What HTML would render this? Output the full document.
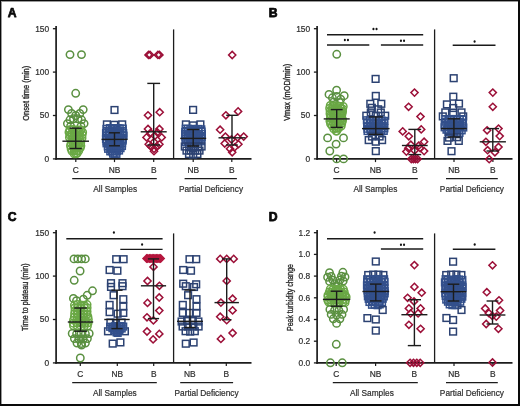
<!DOCTYPE html>
<html><head><meta charset="utf-8"><style>
html,body{margin:0;padding:0;background:#fff;}
#f{position:relative;width:520px;height:406px;overflow:hidden;background:#fff;}
#b{position:absolute;left:0;top:0;width:516.5px;height:402.5px;border-top:1.5px solid #0a0a0a;border-left:1.5px solid #0a0a0a;border-right:2px solid #0a0a0a;border-bottom:2px solid #0a0a0a;box-sizing:content-box;}
svg{position:absolute;left:0;top:0;will-change:transform;filter:blur(0.3px);}
#b2{position:absolute;left:1px;top:1px;width:517px;height:403px;border-top:1px solid #9a9a9a;border-left:1px solid #9a9a9a;}
text{font-family:"Liberation Sans",sans-serif;}
</style></head><body><div id="f"><svg width="520" height="406" viewBox="0 0 520 406">
<g transform="translate(0,0)">
<text x="7.7" y="17.2" font-size="12.2" font-weight="bold" fill="#0a0a0a" stroke="#0a0a0a" stroke-width="0.75" stroke-linejoin="round">A</text>
</g>
<line x1="56.1" y1="25.9" x2="56.1" y2="159.7" stroke="#1c1c1c" stroke-width="1.7"/>
<line x1="55.3" y1="158.9" x2="251.5" y2="158.9" stroke="#1c1c1c" stroke-width="1.7"/>
<line x1="52.9" y1="28.7" x2="56.1" y2="28.7" stroke="#1c1c1c" stroke-width="1.3"/>
<text x="49.2" y="31.6" font-size="8.4" text-anchor="end" fill="#2e2e2e" stroke="#2e2e2e" stroke-width="0.2">150</text>
<line x1="52.9" y1="72.1" x2="56.1" y2="72.1" stroke="#1c1c1c" stroke-width="1.3"/>
<text x="49.2" y="75" font-size="8.4" text-anchor="end" fill="#2e2e2e" stroke="#2e2e2e" stroke-width="0.2">100</text>
<line x1="52.9" y1="115.5" x2="56.1" y2="115.5" stroke="#1c1c1c" stroke-width="1.3"/>
<text x="49.2" y="118.4" font-size="8.4" text-anchor="end" fill="#2e2e2e" stroke="#2e2e2e" stroke-width="0.2">50</text>
<line x1="52.9" y1="158.9" x2="56.1" y2="158.9" stroke="#1c1c1c" stroke-width="1.3"/>
<text x="49.2" y="161.8" font-size="8.4" text-anchor="end" fill="#2e2e2e" stroke="#2e2e2e" stroke-width="0.2">0</text>
<line x1="173.6" y1="29.4" x2="173.6" y2="158.9" stroke="#1c1c1c" stroke-width="1.3"/>
<line x1="75.8" y1="158.9" x2="75.8" y2="162.1" stroke="#1c1c1c" stroke-width="1.2"/>
<text x="75.8" y="173.4" font-size="8.4" text-anchor="middle" fill="#2e2e2e" stroke="#2e2e2e" stroke-width="0.2">C</text>
<line x1="114.5" y1="158.9" x2="114.5" y2="162.1" stroke="#1c1c1c" stroke-width="1.2"/>
<text x="114.5" y="173.4" font-size="8.4" text-anchor="middle" fill="#2e2e2e" stroke="#2e2e2e" stroke-width="0.2">NB</text>
<line x1="153.7" y1="158.9" x2="153.7" y2="162.1" stroke="#1c1c1c" stroke-width="1.2"/>
<text x="153.7" y="173.4" font-size="8.4" text-anchor="middle" fill="#2e2e2e" stroke="#2e2e2e" stroke-width="0.2">B</text>
<line x1="193.2" y1="158.9" x2="193.2" y2="162.1" stroke="#1c1c1c" stroke-width="1.2"/>
<text x="193.2" y="173.4" font-size="8.4" text-anchor="middle" fill="#2e2e2e" stroke="#2e2e2e" stroke-width="0.2">NB</text>
<line x1="231.8" y1="158.9" x2="231.8" y2="162.1" stroke="#1c1c1c" stroke-width="1.2"/>
<text x="231.8" y="173.4" font-size="8.4" text-anchor="middle" fill="#2e2e2e" stroke="#2e2e2e" stroke-width="0.2">B</text>
<line x1="72.2" y1="178.6" x2="156.8" y2="178.6" stroke="#1c1c1c" stroke-width="1.4"/>
<line x1="184.6" y1="178.6" x2="236.9" y2="178.6" stroke="#1c1c1c" stroke-width="1.4"/>
<text x="115.2" y="192" font-size="8.3" text-anchor="middle" fill="#2e2e2e" stroke="#2e2e2e" stroke-width="0.2">All Samples</text>
<text x="211" y="192" font-size="8.3" text-anchor="middle" fill="#2e2e2e" stroke="#2e2e2e" stroke-width="0.2">Partial Deficiency</text>
<text transform="translate(28.9,93.3) rotate(-90)" font-size="8.4" text-anchor="middle" fill="#2e2e2e" textLength="55" lengthAdjust="spacingAndGlyphs" stroke="#2e2e2e" stroke-width="0.35">Onset time (min)</text>
<g transform="translate(261,0)">
<text x="7.7" y="17.2" font-size="12.2" font-weight="bold" fill="#0a0a0a" stroke="#0a0a0a" stroke-width="0.75" stroke-linejoin="round">B</text>
</g>
<line x1="317.1" y1="25.9" x2="317.1" y2="159.7" stroke="#1c1c1c" stroke-width="1.7"/>
<line x1="316.3" y1="158.9" x2="512.5" y2="158.9" stroke="#1c1c1c" stroke-width="1.7"/>
<line x1="313.9" y1="28.7" x2="317.1" y2="28.7" stroke="#1c1c1c" stroke-width="1.3"/>
<text x="310.2" y="31.6" font-size="8.4" text-anchor="end" fill="#2e2e2e" stroke="#2e2e2e" stroke-width="0.2">150</text>
<line x1="313.9" y1="72.1" x2="317.1" y2="72.1" stroke="#1c1c1c" stroke-width="1.3"/>
<text x="310.2" y="75" font-size="8.4" text-anchor="end" fill="#2e2e2e" stroke="#2e2e2e" stroke-width="0.2">100</text>
<line x1="313.9" y1="115.5" x2="317.1" y2="115.5" stroke="#1c1c1c" stroke-width="1.3"/>
<text x="310.2" y="118.4" font-size="8.4" text-anchor="end" fill="#2e2e2e" stroke="#2e2e2e" stroke-width="0.2">50</text>
<line x1="313.9" y1="158.9" x2="317.1" y2="158.9" stroke="#1c1c1c" stroke-width="1.3"/>
<text x="310.2" y="161.8" font-size="8.4" text-anchor="end" fill="#2e2e2e" stroke="#2e2e2e" stroke-width="0.2">0</text>
<line x1="434.6" y1="29.4" x2="434.6" y2="158.9" stroke="#1c1c1c" stroke-width="1.3"/>
<line x1="336.6" y1="158.9" x2="336.6" y2="162.1" stroke="#1c1c1c" stroke-width="1.2"/>
<text x="336.6" y="173.4" font-size="8.4" text-anchor="middle" fill="#2e2e2e" stroke="#2e2e2e" stroke-width="0.2">C</text>
<line x1="375.5" y1="158.9" x2="375.5" y2="162.1" stroke="#1c1c1c" stroke-width="1.2"/>
<text x="375.5" y="173.4" font-size="8.4" text-anchor="middle" fill="#2e2e2e" stroke="#2e2e2e" stroke-width="0.2">NB</text>
<line x1="414.7" y1="158.9" x2="414.7" y2="162.1" stroke="#1c1c1c" stroke-width="1.2"/>
<text x="414.7" y="173.4" font-size="8.4" text-anchor="middle" fill="#2e2e2e" stroke="#2e2e2e" stroke-width="0.2">B</text>
<line x1="454" y1="158.9" x2="454" y2="162.1" stroke="#1c1c1c" stroke-width="1.2"/>
<text x="454" y="173.4" font-size="8.4" text-anchor="middle" fill="#2e2e2e" stroke="#2e2e2e" stroke-width="0.2">NB</text>
<line x1="492.9" y1="158.9" x2="492.9" y2="162.1" stroke="#1c1c1c" stroke-width="1.2"/>
<text x="492.9" y="173.4" font-size="8.4" text-anchor="middle" fill="#2e2e2e" stroke="#2e2e2e" stroke-width="0.2">B</text>
<line x1="333.2" y1="178.6" x2="417.8" y2="178.6" stroke="#1c1c1c" stroke-width="1.4"/>
<line x1="446" y1="178.6" x2="497.8" y2="178.6" stroke="#1c1c1c" stroke-width="1.4"/>
<text x="375.4" y="192" font-size="8.3" text-anchor="middle" fill="#2e2e2e" stroke="#2e2e2e" stroke-width="0.2">All Samples</text>
<text x="471.9" y="192" font-size="8.3" text-anchor="middle" fill="#2e2e2e" stroke="#2e2e2e" stroke-width="0.2">Partial Deficiency</text>
<text transform="translate(289.9,92.3) rotate(-90)" font-size="8.4" text-anchor="middle" fill="#2e2e2e" textLength="57" lengthAdjust="spacingAndGlyphs" stroke="#2e2e2e" stroke-width="0.35">Vmax (mOD/min)</text>
<g transform="translate(0,204)">
<text x="7.7" y="17.2" font-size="12.2" font-weight="bold" fill="#0a0a0a" stroke="#0a0a0a" stroke-width="0.75" stroke-linejoin="round">C</text>
</g>
<line x1="56.1" y1="229.9" x2="56.1" y2="363.7" stroke="#1c1c1c" stroke-width="1.7"/>
<line x1="55.3" y1="362.9" x2="251.5" y2="362.9" stroke="#1c1c1c" stroke-width="1.7"/>
<line x1="52.9" y1="232.7" x2="56.1" y2="232.7" stroke="#1c1c1c" stroke-width="1.3"/>
<text x="49.2" y="235.6" font-size="8.4" text-anchor="end" fill="#2e2e2e" stroke="#2e2e2e" stroke-width="0.2">150</text>
<line x1="52.9" y1="276.1" x2="56.1" y2="276.1" stroke="#1c1c1c" stroke-width="1.3"/>
<text x="49.2" y="279" font-size="8.4" text-anchor="end" fill="#2e2e2e" stroke="#2e2e2e" stroke-width="0.2">100</text>
<line x1="52.9" y1="319.5" x2="56.1" y2="319.5" stroke="#1c1c1c" stroke-width="1.3"/>
<text x="49.2" y="322.4" font-size="8.4" text-anchor="end" fill="#2e2e2e" stroke="#2e2e2e" stroke-width="0.2">50</text>
<line x1="52.9" y1="362.9" x2="56.1" y2="362.9" stroke="#1c1c1c" stroke-width="1.3"/>
<text x="49.2" y="365.8" font-size="8.4" text-anchor="end" fill="#2e2e2e" stroke="#2e2e2e" stroke-width="0.2">0</text>
<line x1="173.6" y1="233.4" x2="173.6" y2="362.9" stroke="#1c1c1c" stroke-width="1.3"/>
<line x1="80.3" y1="362.9" x2="80.3" y2="366.1" stroke="#1c1c1c" stroke-width="1.2"/>
<text x="80.3" y="377.4" font-size="8.4" text-anchor="middle" fill="#2e2e2e" stroke="#2e2e2e" stroke-width="0.2">C</text>
<line x1="117.3" y1="362.9" x2="117.3" y2="366.1" stroke="#1c1c1c" stroke-width="1.2"/>
<text x="117.3" y="377.4" font-size="8.4" text-anchor="middle" fill="#2e2e2e" stroke="#2e2e2e" stroke-width="0.2">NB</text>
<line x1="153.7" y1="362.9" x2="153.7" y2="366.1" stroke="#1c1c1c" stroke-width="1.2"/>
<text x="153.7" y="377.4" font-size="8.4" text-anchor="middle" fill="#2e2e2e" stroke="#2e2e2e" stroke-width="0.2">B</text>
<line x1="189.8" y1="362.9" x2="189.8" y2="366.1" stroke="#1c1c1c" stroke-width="1.2"/>
<text x="189.8" y="377.4" font-size="8.4" text-anchor="middle" fill="#2e2e2e" stroke="#2e2e2e" stroke-width="0.2">NB</text>
<line x1="226.3" y1="362.9" x2="226.3" y2="366.1" stroke="#1c1c1c" stroke-width="1.2"/>
<text x="226.3" y="377.4" font-size="8.4" text-anchor="middle" fill="#2e2e2e" stroke="#2e2e2e" stroke-width="0.2">B</text>
<line x1="72.2" y1="382.6" x2="156.8" y2="382.6" stroke="#1c1c1c" stroke-width="1.4"/>
<line x1="180.2" y1="382.6" x2="233.1" y2="382.6" stroke="#1c1c1c" stroke-width="1.4"/>
<text x="114.8" y="396" font-size="8.3" text-anchor="middle" fill="#2e2e2e" stroke="#2e2e2e" stroke-width="0.2">All Samples</text>
<text x="206.6" y="396" font-size="8.3" text-anchor="middle" fill="#2e2e2e" stroke="#2e2e2e" stroke-width="0.2">Partial Deficiency</text>
<text transform="translate(28.3,297.2) rotate(-90)" font-size="8.4" text-anchor="middle" fill="#2e2e2e" textLength="67.5" lengthAdjust="spacingAndGlyphs" stroke="#2e2e2e" stroke-width="0.35">Time to plateau (min)</text>
<g transform="translate(261,204)">
<text x="7.7" y="17.2" font-size="12.2" font-weight="bold" fill="#0a0a0a" stroke="#0a0a0a" stroke-width="0.75" stroke-linejoin="round">D</text>
</g>
<line x1="317.1" y1="229.9" x2="317.1" y2="363.7" stroke="#1c1c1c" stroke-width="1.7"/>
<line x1="316.3" y1="362.9" x2="512.5" y2="362.9" stroke="#1c1c1c" stroke-width="1.7"/>
<line x1="313.9" y1="232.7" x2="317.1" y2="232.7" stroke="#1c1c1c" stroke-width="1.3"/>
<text x="310.2" y="235.6" font-size="8.4" text-anchor="end" fill="#2e2e2e" stroke="#2e2e2e" stroke-width="0.2">1.2</text>
<line x1="313.9" y1="254.4" x2="317.1" y2="254.4" stroke="#1c1c1c" stroke-width="1.3"/>
<text x="310.2" y="257.3" font-size="8.4" text-anchor="end" fill="#2e2e2e" stroke="#2e2e2e" stroke-width="0.2">1.0</text>
<line x1="313.9" y1="276.1" x2="317.1" y2="276.1" stroke="#1c1c1c" stroke-width="1.3"/>
<text x="310.2" y="279" font-size="8.4" text-anchor="end" fill="#2e2e2e" stroke="#2e2e2e" stroke-width="0.2">0.8</text>
<line x1="313.9" y1="297.8" x2="317.1" y2="297.8" stroke="#1c1c1c" stroke-width="1.3"/>
<text x="310.2" y="300.7" font-size="8.4" text-anchor="end" fill="#2e2e2e" stroke="#2e2e2e" stroke-width="0.2">0.6</text>
<line x1="313.9" y1="319.5" x2="317.1" y2="319.5" stroke="#1c1c1c" stroke-width="1.3"/>
<text x="310.2" y="322.4" font-size="8.4" text-anchor="end" fill="#2e2e2e" stroke="#2e2e2e" stroke-width="0.2">0.4</text>
<line x1="313.9" y1="341.2" x2="317.1" y2="341.2" stroke="#1c1c1c" stroke-width="1.3"/>
<text x="310.2" y="344.1" font-size="8.4" text-anchor="end" fill="#2e2e2e" stroke="#2e2e2e" stroke-width="0.2">0.2</text>
<line x1="313.9" y1="362.9" x2="317.1" y2="362.9" stroke="#1c1c1c" stroke-width="1.3"/>
<text x="310.2" y="365.8" font-size="8.4" text-anchor="end" fill="#2e2e2e" stroke="#2e2e2e" stroke-width="0.2">0.0</text>
<line x1="434.6" y1="233.4" x2="434.6" y2="362.9" stroke="#1c1c1c" stroke-width="1.3"/>
<line x1="336.2" y1="362.9" x2="336.2" y2="366.1" stroke="#1c1c1c" stroke-width="1.2"/>
<text x="336.2" y="377.4" font-size="8.4" text-anchor="middle" fill="#2e2e2e" stroke="#2e2e2e" stroke-width="0.2">C</text>
<line x1="375.6" y1="362.9" x2="375.6" y2="366.1" stroke="#1c1c1c" stroke-width="1.2"/>
<text x="375.6" y="377.4" font-size="8.4" text-anchor="middle" fill="#2e2e2e" stroke="#2e2e2e" stroke-width="0.2">NB</text>
<line x1="414.2" y1="362.9" x2="414.2" y2="366.1" stroke="#1c1c1c" stroke-width="1.2"/>
<text x="414.2" y="377.4" font-size="8.4" text-anchor="middle" fill="#2e2e2e" stroke="#2e2e2e" stroke-width="0.2">B</text>
<line x1="454" y1="362.9" x2="454" y2="366.1" stroke="#1c1c1c" stroke-width="1.2"/>
<text x="454" y="377.4" font-size="8.4" text-anchor="middle" fill="#2e2e2e" stroke="#2e2e2e" stroke-width="0.2">NB</text>
<line x1="492.9" y1="362.9" x2="492.9" y2="366.1" stroke="#1c1c1c" stroke-width="1.2"/>
<text x="492.9" y="377.4" font-size="8.4" text-anchor="middle" fill="#2e2e2e" stroke="#2e2e2e" stroke-width="0.2">B</text>
<line x1="332.8" y1="382.6" x2="417.8" y2="382.6" stroke="#1c1c1c" stroke-width="1.4"/>
<line x1="446" y1="382.6" x2="497.8" y2="382.6" stroke="#1c1c1c" stroke-width="1.4"/>
<text x="371.9" y="396" font-size="8.3" text-anchor="middle" fill="#2e2e2e" stroke="#2e2e2e" stroke-width="0.2">All Samples</text>
<text x="471.9" y="396" font-size="8.3" text-anchor="middle" fill="#2e2e2e" stroke="#2e2e2e" stroke-width="0.2">Partial Deficiency</text>
<text transform="translate(292.8,297.5) rotate(-90)" font-size="8.4" text-anchor="middle" fill="#2e2e2e" textLength="67" lengthAdjust="spacingAndGlyphs" stroke="#2e2e2e" stroke-width="0.35">Peak turbidity change</text>
<g fill="none" stroke-width="1.5">
<circle cx="70" cy="54.6" r="3.7" stroke="#5a9040"/>
<circle cx="81.5" cy="54.6" r="3.7" stroke="#5a9040"/>
<circle cx="75.7" cy="93.3" r="3.7" stroke="#5a9040"/>
<circle cx="68.4" cy="109.6" r="3.7" stroke="#5a9040"/>
<circle cx="83.2" cy="109.6" r="3.7" stroke="#5a9040"/>
<circle cx="71.6" cy="113.5" r="3.7" stroke="#5a9040"/>
<circle cx="79.8" cy="113.5" r="3.7" stroke="#5a9040"/>
<circle cx="75.7" cy="115.5" r="3.7" stroke="#5a9040"/>
<circle cx="73.5" cy="118.8" r="3.7" stroke="#5a9040"/>
<circle cx="78" cy="118.8" r="3.7" stroke="#5a9040"/>
<circle cx="70" cy="119.8" r="3.7" stroke="#5a9040"/>
<circle cx="81.6" cy="119.8" r="3.7" stroke="#5a9040"/>
<circle cx="67.4" cy="123.6" r="3.7" stroke="#5a9040"/>
<circle cx="84.1" cy="123.6" r="3.7" stroke="#5a9040"/>
<circle cx="70.6" cy="126.2" r="3.7" stroke="#5a9040"/>
<circle cx="81" cy="126.2" r="3.7" stroke="#5a9040"/>
<circle cx="69.82" cy="129.65" r="3.7" stroke="#6aa845"/>
<circle cx="73.03" cy="129.57" r="3.7" stroke="#6aa845"/>
<circle cx="75.79" cy="129.87" r="3.7" stroke="#6aa845"/>
<circle cx="78.18" cy="130.01" r="3.7" stroke="#6aa845"/>
<circle cx="81.04" cy="129.93" r="3.7" stroke="#6aa845"/>
<circle cx="68.96" cy="132.19" r="3.7" stroke="#6aa845"/>
<circle cx="71.88" cy="132.93" r="3.7" stroke="#6aa845"/>
<circle cx="74.14" cy="132.32" r="3.7" stroke="#6aa845"/>
<circle cx="77.2" cy="133.05" r="3.7" stroke="#6aa845"/>
<circle cx="79.71" cy="132.5" r="3.7" stroke="#6aa845"/>
<circle cx="82.67" cy="132.15" r="3.7" stroke="#6aa845"/>
<circle cx="69.81" cy="134.99" r="3.7" stroke="#6aa845"/>
<circle cx="71.63" cy="134.82" r="3.7" stroke="#6aa845"/>
<circle cx="74.34" cy="135.52" r="3.7" stroke="#6aa845"/>
<circle cx="76.75" cy="135.28" r="3.7" stroke="#6aa845"/>
<circle cx="79.75" cy="135.07" r="3.7" stroke="#6aa845"/>
<circle cx="82.2" cy="134.76" r="3.7" stroke="#6aa845"/>
<circle cx="69.4" cy="137.51" r="3.7" stroke="#6aa845"/>
<circle cx="73" cy="137.73" r="3.7" stroke="#6aa845"/>
<circle cx="75.61" cy="137.89" r="3.7" stroke="#6aa845"/>
<circle cx="78.73" cy="137.6" r="3.7" stroke="#6aa845"/>
<circle cx="82.05" cy="138" r="3.7" stroke="#6aa845"/>
<circle cx="71.7" cy="140.47" r="3.7" stroke="#6aa845"/>
<circle cx="74.54" cy="140.78" r="3.7" stroke="#6aa845"/>
<circle cx="77.31" cy="140.19" r="3.7" stroke="#6aa845"/>
<circle cx="80.13" cy="140.02" r="3.7" stroke="#6aa845"/>
<circle cx="71.1" cy="143.26" r="3.7" stroke="#6aa845"/>
<circle cx="73.14" cy="142.99" r="3.7" stroke="#6aa845"/>
<circle cx="75.34" cy="143.17" r="3.7" stroke="#6aa845"/>
<circle cx="78.37" cy="143.07" r="3.7" stroke="#6aa845"/>
<circle cx="80.79" cy="142.81" r="3.7" stroke="#6aa845"/>
<circle cx="70.45" cy="145.69" r="3.7" stroke="#6aa845"/>
<circle cx="73.11" cy="145.56" r="3.7" stroke="#6aa845"/>
<circle cx="76.14" cy="146.04" r="3.7" stroke="#6aa845"/>
<circle cx="78.55" cy="145.76" r="3.7" stroke="#6aa845"/>
<circle cx="80.91" cy="145.8" r="3.7" stroke="#6aa845"/>
<circle cx="71.06" cy="148.69" r="3.7" stroke="#6aa845"/>
<circle cx="73.68" cy="147.98" r="3.7" stroke="#6aa845"/>
<circle cx="75.68" cy="148.37" r="3.7" stroke="#6aa845"/>
<circle cx="77.76" cy="148.16" r="3.7" stroke="#6aa845"/>
<circle cx="80.35" cy="147.82" r="3.7" stroke="#6aa845"/>
<circle cx="71.9" cy="151.07" r="3.7" stroke="#6aa845"/>
<circle cx="74.25" cy="150.55" r="3.7" stroke="#6aa845"/>
<circle cx="76.8" cy="151.17" r="3.7" stroke="#6aa845"/>
<circle cx="78.77" cy="150.75" r="3.7" stroke="#6aa845"/>
<circle cx="74.13" cy="153.78" r="3.7" stroke="#6aa845"/>
<circle cx="76.05" cy="153.76" r="3.7" stroke="#6aa845"/>
<circle cx="77.16" cy="153.32" r="3.7" stroke="#6aa845"/>
<rect x="111.15" y="106.65" width="6.7" height="6.7" stroke="#2c4272"/>
<rect x="103.55" y="121.05" width="6.7" height="6.7" stroke="#2c4272"/>
<rect x="110.95" y="121.45" width="6.7" height="6.7" stroke="#2c4272"/>
<rect x="118.85" y="121.05" width="6.7" height="6.7" stroke="#2c4272"/>
<rect x="103.11" y="125.53" width="6.7" height="6.7" stroke="#33508c"/>
<rect x="106.42" y="124.8" width="6.7" height="6.7" stroke="#33508c"/>
<rect x="108.36" y="124.88" width="6.7" height="6.7" stroke="#33508c"/>
<rect x="111.13" y="125.13" width="6.7" height="6.7" stroke="#33508c"/>
<rect x="114.21" y="124.91" width="6.7" height="6.7" stroke="#33508c"/>
<rect x="116.34" y="125.07" width="6.7" height="6.7" stroke="#33508c"/>
<rect x="119.42" y="125.22" width="6.7" height="6.7" stroke="#33508c"/>
<rect x="103.64" y="127.84" width="6.7" height="6.7" stroke="#33508c"/>
<rect x="105.94" y="127.77" width="6.7" height="6.7" stroke="#33508c"/>
<rect x="108.85" y="127.2" width="6.7" height="6.7" stroke="#33508c"/>
<rect x="111.82" y="127.93" width="6.7" height="6.7" stroke="#33508c"/>
<rect x="114.54" y="127.95" width="6.7" height="6.7" stroke="#33508c"/>
<rect x="116.8" y="127.55" width="6.7" height="6.7" stroke="#33508c"/>
<rect x="119.25" y="127.78" width="6.7" height="6.7" stroke="#33508c"/>
<rect x="102.68" y="129.72" width="6.7" height="6.7" stroke="#33508c"/>
<rect x="105.6" y="129.81" width="6.7" height="6.7" stroke="#33508c"/>
<rect x="108.5" y="129.7" width="6.7" height="6.7" stroke="#33508c"/>
<rect x="110.93" y="129.8" width="6.7" height="6.7" stroke="#33508c"/>
<rect x="113.81" y="130.01" width="6.7" height="6.7" stroke="#33508c"/>
<rect x="116.5" y="130.52" width="6.7" height="6.7" stroke="#33508c"/>
<rect x="119.86" y="129.8" width="6.7" height="6.7" stroke="#33508c"/>
<rect x="102.8" y="132.5" width="6.7" height="6.7" stroke="#33508c"/>
<rect x="105.71" y="132.27" width="6.7" height="6.7" stroke="#33508c"/>
<rect x="109" y="133.14" width="6.7" height="6.7" stroke="#33508c"/>
<rect x="111.42" y="132.63" width="6.7" height="6.7" stroke="#33508c"/>
<rect x="113.84" y="132.25" width="6.7" height="6.7" stroke="#33508c"/>
<rect x="116.89" y="132.41" width="6.7" height="6.7" stroke="#33508c"/>
<rect x="120.18" y="132.31" width="6.7" height="6.7" stroke="#33508c"/>
<rect x="102.66" y="135.6" width="6.7" height="6.7" stroke="#33508c"/>
<rect x="105.92" y="134.8" width="6.7" height="6.7" stroke="#33508c"/>
<rect x="108.69" y="134.68" width="6.7" height="6.7" stroke="#33508c"/>
<rect x="111.44" y="135.63" width="6.7" height="6.7" stroke="#33508c"/>
<rect x="114.53" y="135.35" width="6.7" height="6.7" stroke="#33508c"/>
<rect x="116.69" y="135.02" width="6.7" height="6.7" stroke="#33508c"/>
<rect x="119.35" y="135.42" width="6.7" height="6.7" stroke="#33508c"/>
<rect x="103.25" y="137.93" width="6.7" height="6.7" stroke="#33508c"/>
<rect x="105.76" y="137.37" width="6.7" height="6.7" stroke="#33508c"/>
<rect x="108.96" y="138.13" width="6.7" height="6.7" stroke="#33508c"/>
<rect x="111.72" y="137.96" width="6.7" height="6.7" stroke="#33508c"/>
<rect x="114.4" y="137.89" width="6.7" height="6.7" stroke="#33508c"/>
<rect x="116.53" y="137.67" width="6.7" height="6.7" stroke="#33508c"/>
<rect x="119.37" y="137.18" width="6.7" height="6.7" stroke="#33508c"/>
<rect x="103.18" y="139.93" width="6.7" height="6.7" stroke="#33508c"/>
<rect x="105.98" y="140.34" width="6.7" height="6.7" stroke="#33508c"/>
<rect x="109.24" y="140.1" width="6.7" height="6.7" stroke="#33508c"/>
<rect x="111.79" y="140.64" width="6.7" height="6.7" stroke="#33508c"/>
<rect x="114.37" y="140.01" width="6.7" height="6.7" stroke="#33508c"/>
<rect x="116.2" y="139.88" width="6.7" height="6.7" stroke="#33508c"/>
<rect x="118.75" y="139.85" width="6.7" height="6.7" stroke="#33508c"/>
<rect x="104.44" y="143.05" width="6.7" height="6.7" stroke="#33508c"/>
<rect x="107.47" y="142.63" width="6.7" height="6.7" stroke="#33508c"/>
<rect x="110.1" y="142.95" width="6.7" height="6.7" stroke="#33508c"/>
<rect x="112.34" y="142.81" width="6.7" height="6.7" stroke="#33508c"/>
<rect x="115.98" y="142.93" width="6.7" height="6.7" stroke="#33508c"/>
<rect x="118.63" y="142.63" width="6.7" height="6.7" stroke="#33508c"/>
<rect x="104.8" y="145.44" width="6.7" height="6.7" stroke="#33508c"/>
<rect x="107.44" y="145.45" width="6.7" height="6.7" stroke="#33508c"/>
<rect x="110.57" y="145.05" width="6.7" height="6.7" stroke="#33508c"/>
<rect x="112.48" y="145.6" width="6.7" height="6.7" stroke="#33508c"/>
<rect x="115.29" y="144.82" width="6.7" height="6.7" stroke="#33508c"/>
<rect x="117.18" y="144.8" width="6.7" height="6.7" stroke="#33508c"/>
<rect x="106.9" y="147.96" width="6.7" height="6.7" stroke="#33508c"/>
<rect x="108.53" y="147.98" width="6.7" height="6.7" stroke="#33508c"/>
<rect x="111.76" y="147.81" width="6.7" height="6.7" stroke="#33508c"/>
<rect x="113.51" y="147.7" width="6.7" height="6.7" stroke="#33508c"/>
<rect x="115.68" y="147.16" width="6.7" height="6.7" stroke="#33508c"/>
<rect x="109.72" y="150.3" width="6.7" height="6.7" stroke="#33508c"/>
<rect x="111.22" y="150.58" width="6.7" height="6.7" stroke="#33508c"/>
<rect x="113.08" y="150.52" width="6.7" height="6.7" stroke="#33508c"/>
<path d="M148.5 51.3l3.6 3.6l-3.6 3.6l-3.6 -3.6z" stroke="#9c1038"/>
<path d="M150 51.3l3.6 3.6l-3.6 3.6l-3.6 -3.6z" stroke="#9c1038"/>
<path d="M157.9 51.3l3.6 3.6l-3.6 3.6l-3.6 -3.6z" stroke="#9c1038"/>
<path d="M159.4 51.3l3.6 3.6l-3.6 3.6l-3.6 -3.6z" stroke="#9c1038"/>
<path d="M148 111.7l3.6 3.6l-3.6 3.6l-3.6 -3.6z" stroke="#9c1038"/>
<path d="M159.7 108.6l3.6 3.6l-3.6 3.6l-3.6 -3.6z" stroke="#9c1038"/>
<path d="M148 125.4l3.6 3.6l-3.6 3.6l-3.6 -3.6z" stroke="#9c1038"/>
<path d="M159.4 125.4l3.6 3.6l-3.6 3.6l-3.6 -3.6z" stroke="#9c1038"/>
<path d="M146.5 133.8l3.6 3.6l-3.6 3.6l-3.6 -3.6z" stroke="#9c1038"/>
<path d="M154.8 132.3l3.6 3.6l-3.6 3.6l-3.6 -3.6z" stroke="#9c1038"/>
<path d="M161.7 133.8l3.6 3.6l-3.6 3.6l-3.6 -3.6z" stroke="#9c1038"/>
<path d="M150.6 129.2l3.6 3.6l-3.6 3.6l-3.6 -3.6z" stroke="#9c1038"/>
<path d="M157.4 128.8l3.6 3.6l-3.6 3.6l-3.6 -3.6z" stroke="#9c1038"/>
<path d="M148.7 140.7l3.6 3.6l-3.6 3.6l-3.6 -3.6z" stroke="#9c1038"/>
<path d="M154 145.3l3.6 3.6l-3.6 3.6l-3.6 -3.6z" stroke="#9c1038"/>
<path d="M159.4 140.7l3.6 3.6l-3.6 3.6l-3.6 -3.6z" stroke="#9c1038"/>
<path d="M154 138.4l3.6 3.6l-3.6 3.6l-3.6 -3.6z" stroke="#9c1038"/>
<path d="M151 142.9l3.6 3.6l-3.6 3.6l-3.6 -3.6z" stroke="#9c1038"/>
<path d="M157 142.9l3.6 3.6l-3.6 3.6l-3.6 -3.6z" stroke="#9c1038"/>
<path d="M154 147.6l3.6 3.6l-3.6 3.6l-3.6 -3.6z" stroke="#9c1038"/>
<rect x="189.75" y="106.55" width="6.7" height="6.7" stroke="#2c4272"/>
<rect x="182.55" y="121.05" width="6.7" height="6.7" stroke="#2c4272"/>
<rect x="189.75" y="122.05" width="6.7" height="6.7" stroke="#2c4272"/>
<rect x="197.05" y="121.05" width="6.7" height="6.7" stroke="#2c4272"/>
<rect x="182.38" y="125.36" width="6.7" height="6.7" stroke="#33508c"/>
<rect x="184.44" y="125.44" width="6.7" height="6.7" stroke="#33508c"/>
<rect x="187.06" y="125.74" width="6.7" height="6.7" stroke="#33508c"/>
<rect x="189.71" y="125.57" width="6.7" height="6.7" stroke="#33508c"/>
<rect x="192.21" y="126.06" width="6.7" height="6.7" stroke="#33508c"/>
<rect x="195.07" y="125.61" width="6.7" height="6.7" stroke="#33508c"/>
<rect x="197.93" y="126.05" width="6.7" height="6.7" stroke="#33508c"/>
<rect x="181.9" y="128.57" width="6.7" height="6.7" stroke="#33508c"/>
<rect x="184.65" y="128.18" width="6.7" height="6.7" stroke="#33508c"/>
<rect x="187.34" y="127.67" width="6.7" height="6.7" stroke="#33508c"/>
<rect x="189.93" y="127.83" width="6.7" height="6.7" stroke="#33508c"/>
<rect x="192.16" y="128.45" width="6.7" height="6.7" stroke="#33508c"/>
<rect x="195" y="128.12" width="6.7" height="6.7" stroke="#33508c"/>
<rect x="198.22" y="128.21" width="6.7" height="6.7" stroke="#33508c"/>
<rect x="181.73" y="130.67" width="6.7" height="6.7" stroke="#33508c"/>
<rect x="184.67" y="130.93" width="6.7" height="6.7" stroke="#33508c"/>
<rect x="186.92" y="130.71" width="6.7" height="6.7" stroke="#33508c"/>
<rect x="189.77" y="130.43" width="6.7" height="6.7" stroke="#33508c"/>
<rect x="193" y="130.66" width="6.7" height="6.7" stroke="#33508c"/>
<rect x="195.49" y="130.91" width="6.7" height="6.7" stroke="#33508c"/>
<rect x="198.55" y="130.59" width="6.7" height="6.7" stroke="#33508c"/>
<rect x="181.98" y="133.16" width="6.7" height="6.7" stroke="#33508c"/>
<rect x="184.6" y="133.34" width="6.7" height="6.7" stroke="#33508c"/>
<rect x="187.27" y="133.18" width="6.7" height="6.7" stroke="#33508c"/>
<rect x="190.02" y="133.59" width="6.7" height="6.7" stroke="#33508c"/>
<rect x="192.97" y="133.53" width="6.7" height="6.7" stroke="#33508c"/>
<rect x="195.94" y="132.91" width="6.7" height="6.7" stroke="#33508c"/>
<rect x="198.28" y="133.59" width="6.7" height="6.7" stroke="#33508c"/>
<rect x="182.28" y="135.29" width="6.7" height="6.7" stroke="#33508c"/>
<rect x="184.25" y="135.59" width="6.7" height="6.7" stroke="#33508c"/>
<rect x="186.89" y="135.39" width="6.7" height="6.7" stroke="#33508c"/>
<rect x="189.58" y="135.82" width="6.7" height="6.7" stroke="#33508c"/>
<rect x="192.97" y="136.05" width="6.7" height="6.7" stroke="#33508c"/>
<rect x="195.03" y="135.87" width="6.7" height="6.7" stroke="#33508c"/>
<rect x="198.23" y="135.29" width="6.7" height="6.7" stroke="#33508c"/>
<rect x="182.4" y="138.62" width="6.7" height="6.7" stroke="#33508c"/>
<rect x="184.39" y="138.6" width="6.7" height="6.7" stroke="#33508c"/>
<rect x="187.21" y="138.14" width="6.7" height="6.7" stroke="#33508c"/>
<rect x="190.46" y="138.48" width="6.7" height="6.7" stroke="#33508c"/>
<rect x="192.28" y="138.08" width="6.7" height="6.7" stroke="#33508c"/>
<rect x="195.28" y="137.99" width="6.7" height="6.7" stroke="#33508c"/>
<rect x="197.61" y="137.97" width="6.7" height="6.7" stroke="#33508c"/>
<rect x="181.45" y="143.15" width="6.7" height="6.7" stroke="#2c4272"/>
<rect x="185.85" y="143.15" width="6.7" height="6.7" stroke="#2c4272"/>
<rect x="190.25" y="143.15" width="6.7" height="6.7" stroke="#2c4272"/>
<rect x="194.65" y="143.15" width="6.7" height="6.7" stroke="#2c4272"/>
<rect x="198.25" y="143.15" width="6.7" height="6.7" stroke="#2c4272"/>
<rect x="183.15" y="147.25" width="6.7" height="6.7" stroke="#2c4272"/>
<rect x="187.45" y="147.25" width="6.7" height="6.7" stroke="#2c4272"/>
<rect x="191.85" y="147.25" width="6.7" height="6.7" stroke="#2c4272"/>
<rect x="196.15" y="147.25" width="6.7" height="6.7" stroke="#2c4272"/>
<rect x="185.65" y="150.65" width="6.7" height="6.7" stroke="#2c4272"/>
<rect x="189.85" y="151.25" width="6.7" height="6.7" stroke="#2c4272"/>
<rect x="194.05" y="150.65" width="6.7" height="6.7" stroke="#2c4272"/>
<path d="M232.2 51.4l3.6 3.6l-3.6 3.6l-3.6 -3.6z" stroke="#9c1038"/>
<path d="M225.9 111.7l3.6 3.6l-3.6 3.6l-3.6 -3.6z" stroke="#9c1038"/>
<path d="M238.1 107.8l3.6 3.6l-3.6 3.6l-3.6 -3.6z" stroke="#9c1038"/>
<path d="M220.1 126.1l3.6 3.6l-3.6 3.6l-3.6 -3.6z" stroke="#9c1038"/>
<path d="M225.4 133l3.6 3.6l-3.6 3.6l-3.6 -3.6z" stroke="#9c1038"/>
<path d="M237.6 133.8l3.6 3.6l-3.6 3.6l-3.6 -3.6z" stroke="#9c1038"/>
<path d="M243.7 133l3.6 3.6l-3.6 3.6l-3.6 -3.6z" stroke="#9c1038"/>
<path d="M231.5 135.9l3.6 3.6l-3.6 3.6l-3.6 -3.6z" stroke="#9c1038"/>
<path d="M224.7 139.9l3.6 3.6l-3.6 3.6l-3.6 -3.6z" stroke="#9c1038"/>
<path d="M238.4 140.6l3.6 3.6l-3.6 3.6l-3.6 -3.6z" stroke="#9c1038"/>
<path d="M230 145.2l3.6 3.6l-3.6 3.6l-3.6 -3.6z" stroke="#9c1038"/>
<path d="M234.6 143.7l3.6 3.6l-3.6 3.6l-3.6 -3.6z" stroke="#9c1038"/>
<path d="M232.2 148.7l3.6 3.6l-3.6 3.6l-3.6 -3.6z" stroke="#9c1038"/>
<circle cx="336.75" cy="54.3" r="3.7" stroke="#5a9040"/>
<circle cx="336.6" cy="90.2" r="3.7" stroke="#5a9040"/>
<circle cx="329" cy="94.4" r="3.7" stroke="#5a9040"/>
<circle cx="344.2" cy="95.7" r="3.7" stroke="#5a9040"/>
<circle cx="332.4" cy="97.8" r="3.7" stroke="#5a9040"/>
<circle cx="340.7" cy="99.2" r="3.7" stroke="#5a9040"/>
<circle cx="336.6" cy="96.5" r="3.7" stroke="#5a9040"/>
<circle cx="333.8" cy="102" r="3.7" stroke="#5a9040"/>
<circle cx="339.6" cy="102.5" r="3.7" stroke="#5a9040"/>
<circle cx="330.22" cy="105.52" r="3.7" stroke="#6aa845"/>
<circle cx="332.65" cy="105.94" r="3.7" stroke="#6aa845"/>
<circle cx="334.72" cy="105.83" r="3.7" stroke="#6aa845"/>
<circle cx="337.92" cy="106.01" r="3.7" stroke="#6aa845"/>
<circle cx="339.96" cy="106.49" r="3.7" stroke="#6aa845"/>
<circle cx="343.29" cy="106.47" r="3.7" stroke="#6aa845"/>
<circle cx="329.6" cy="108.27" r="3.7" stroke="#6aa845"/>
<circle cx="332.14" cy="108.78" r="3.7" stroke="#6aa845"/>
<circle cx="334.97" cy="108.13" r="3.7" stroke="#6aa845"/>
<circle cx="337.72" cy="108.91" r="3.7" stroke="#6aa845"/>
<circle cx="340.72" cy="108.26" r="3.7" stroke="#6aa845"/>
<circle cx="342.65" cy="108.92" r="3.7" stroke="#6aa845"/>
<circle cx="330.07" cy="111.2" r="3.7" stroke="#6aa845"/>
<circle cx="332.19" cy="110.56" r="3.7" stroke="#6aa845"/>
<circle cx="335.39" cy="110.93" r="3.7" stroke="#6aa845"/>
<circle cx="337.37" cy="111.44" r="3.7" stroke="#6aa845"/>
<circle cx="340.53" cy="111.3" r="3.7" stroke="#6aa845"/>
<circle cx="342.58" cy="111.36" r="3.7" stroke="#6aa845"/>
<circle cx="329.97" cy="113.86" r="3.7" stroke="#6aa845"/>
<circle cx="332.79" cy="113.34" r="3.7" stroke="#6aa845"/>
<circle cx="335.33" cy="113.93" r="3.7" stroke="#6aa845"/>
<circle cx="337.49" cy="113.13" r="3.7" stroke="#6aa845"/>
<circle cx="340.19" cy="113.24" r="3.7" stroke="#6aa845"/>
<circle cx="342.21" cy="113.16" r="3.7" stroke="#6aa845"/>
<circle cx="330.62" cy="115.7" r="3.7" stroke="#6aa845"/>
<circle cx="333.6" cy="115.81" r="3.7" stroke="#6aa845"/>
<circle cx="336.76" cy="115.79" r="3.7" stroke="#6aa845"/>
<circle cx="339.22" cy="115.68" r="3.7" stroke="#6aa845"/>
<circle cx="341.78" cy="115.52" r="3.7" stroke="#6aa845"/>
<circle cx="330.42" cy="118.02" r="3.7" stroke="#6aa845"/>
<circle cx="333.23" cy="118.55" r="3.7" stroke="#6aa845"/>
<circle cx="335.02" cy="118.47" r="3.7" stroke="#6aa845"/>
<circle cx="338.1" cy="118.11" r="3.7" stroke="#6aa845"/>
<circle cx="340.32" cy="118.43" r="3.7" stroke="#6aa845"/>
<circle cx="342.33" cy="118.83" r="3.7" stroke="#6aa845"/>
<circle cx="329.89" cy="121.01" r="3.7" stroke="#6aa845"/>
<circle cx="332.79" cy="121.48" r="3.7" stroke="#6aa845"/>
<circle cx="335.04" cy="121.33" r="3.7" stroke="#6aa845"/>
<circle cx="338.01" cy="121.14" r="3.7" stroke="#6aa845"/>
<circle cx="340.3" cy="120.85" r="3.7" stroke="#6aa845"/>
<circle cx="342.55" cy="120.63" r="3.7" stroke="#6aa845"/>
<circle cx="330.51" cy="123.74" r="3.7" stroke="#6aa845"/>
<circle cx="333.47" cy="123.16" r="3.7" stroke="#6aa845"/>
<circle cx="336.08" cy="123.84" r="3.7" stroke="#6aa845"/>
<circle cx="339.65" cy="123.67" r="3.7" stroke="#6aa845"/>
<circle cx="341.84" cy="123.24" r="3.7" stroke="#6aa845"/>
<circle cx="332.01" cy="125.96" r="3.7" stroke="#6aa845"/>
<circle cx="334.73" cy="125.95" r="3.7" stroke="#6aa845"/>
<circle cx="337.69" cy="126.46" r="3.7" stroke="#6aa845"/>
<circle cx="341.26" cy="126.05" r="3.7" stroke="#6aa845"/>
<circle cx="333.74" cy="128.97" r="3.7" stroke="#6aa845"/>
<circle cx="336.31" cy="128.36" r="3.7" stroke="#6aa845"/>
<circle cx="338.5" cy="128.38" r="3.7" stroke="#6aa845"/>
<circle cx="336.14" cy="131" r="3.7" stroke="#6aa845"/>
<circle cx="336.7" cy="131" r="3.7" stroke="#6aa845"/>
<circle cx="327.6" cy="137.9" r="3.7" stroke="#5a9040"/>
<circle cx="343.5" cy="137.9" r="3.7" stroke="#5a9040"/>
<circle cx="336.1" cy="144.1" r="3.7" stroke="#5a9040"/>
<circle cx="329.8" cy="151" r="3.7" stroke="#5a9040"/>
<circle cx="336.7" cy="158.9" r="3.7" stroke="#5a9040"/>
<circle cx="343.6" cy="158.9" r="3.7" stroke="#5a9040"/>
<rect x="372.25" y="75.55" width="6.7" height="6.7" stroke="#2c4272"/>
<rect x="372.45" y="92.55" width="6.7" height="6.7" stroke="#2c4272"/>
<rect x="366.95" y="100.45" width="6.7" height="6.7" stroke="#2c4272"/>
<rect x="377.95" y="100.45" width="6.7" height="6.7" stroke="#2c4272"/>
<rect x="368.45" y="104.45" width="6.7" height="6.7" stroke="#2c4272"/>
<rect x="374.75" y="105.95" width="6.7" height="6.7" stroke="#2c4272"/>
<rect x="362.95" y="112.35" width="6.7" height="6.7" stroke="#2c4272"/>
<rect x="372.45" y="112.35" width="6.7" height="6.7" stroke="#2c4272"/>
<rect x="381.85" y="112.35" width="6.7" height="6.7" stroke="#2c4272"/>
<rect x="367.45" y="109.15" width="6.7" height="6.7" stroke="#2c4272"/>
<rect x="377.45" y="109.15" width="6.7" height="6.7" stroke="#2c4272"/>
<rect x="363.55" y="116.91" width="6.7" height="6.7" stroke="#33508c"/>
<rect x="366.44" y="117.05" width="6.7" height="6.7" stroke="#33508c"/>
<rect x="369.19" y="116.67" width="6.7" height="6.7" stroke="#33508c"/>
<rect x="372.25" y="116.88" width="6.7" height="6.7" stroke="#33508c"/>
<rect x="375.34" y="117.18" width="6.7" height="6.7" stroke="#33508c"/>
<rect x="378.3" y="117.31" width="6.7" height="6.7" stroke="#33508c"/>
<rect x="381.07" y="117.53" width="6.7" height="6.7" stroke="#33508c"/>
<rect x="363.86" y="119.68" width="6.7" height="6.7" stroke="#33508c"/>
<rect x="367.28" y="119.5" width="6.7" height="6.7" stroke="#33508c"/>
<rect x="369.85" y="119.99" width="6.7" height="6.7" stroke="#33508c"/>
<rect x="371.99" y="120.19" width="6.7" height="6.7" stroke="#33508c"/>
<rect x="375.67" y="119.98" width="6.7" height="6.7" stroke="#33508c"/>
<rect x="378.34" y="120.16" width="6.7" height="6.7" stroke="#33508c"/>
<rect x="380.57" y="119.87" width="6.7" height="6.7" stroke="#33508c"/>
<rect x="363.89" y="122.88" width="6.7" height="6.7" stroke="#33508c"/>
<rect x="367.04" y="122.88" width="6.7" height="6.7" stroke="#33508c"/>
<rect x="369.68" y="122.94" width="6.7" height="6.7" stroke="#33508c"/>
<rect x="372.63" y="122.74" width="6.7" height="6.7" stroke="#33508c"/>
<rect x="375.04" y="122.08" width="6.7" height="6.7" stroke="#33508c"/>
<rect x="377.79" y="122.41" width="6.7" height="6.7" stroke="#33508c"/>
<rect x="380.62" y="122.89" width="6.7" height="6.7" stroke="#33508c"/>
<rect x="364.2" y="125.38" width="6.7" height="6.7" stroke="#33508c"/>
<rect x="367.04" y="125.43" width="6.7" height="6.7" stroke="#33508c"/>
<rect x="369.67" y="124.75" width="6.7" height="6.7" stroke="#33508c"/>
<rect x="372.75" y="125.5" width="6.7" height="6.7" stroke="#33508c"/>
<rect x="375.22" y="125.29" width="6.7" height="6.7" stroke="#33508c"/>
<rect x="378.15" y="124.82" width="6.7" height="6.7" stroke="#33508c"/>
<rect x="381" y="125" width="6.7" height="6.7" stroke="#33508c"/>
<rect x="364.21" y="127.72" width="6.7" height="6.7" stroke="#33508c"/>
<rect x="367.47" y="127.66" width="6.7" height="6.7" stroke="#33508c"/>
<rect x="370.08" y="128.43" width="6.7" height="6.7" stroke="#33508c"/>
<rect x="372.44" y="127.83" width="6.7" height="6.7" stroke="#33508c"/>
<rect x="375.04" y="128.13" width="6.7" height="6.7" stroke="#33508c"/>
<rect x="377.93" y="128.07" width="6.7" height="6.7" stroke="#33508c"/>
<rect x="380.41" y="127.53" width="6.7" height="6.7" stroke="#33508c"/>
<rect x="365.35" y="136.75" width="6.7" height="6.7" stroke="#2c4272"/>
<rect x="378.75" y="136.75" width="6.7" height="6.7" stroke="#2c4272"/>
<rect x="372.45" y="138.35" width="6.7" height="6.7" stroke="#2c4272"/>
<rect x="372.45" y="147.75" width="6.7" height="6.7" stroke="#2c4272"/>
<rect x="368.65" y="133.15" width="6.7" height="6.7" stroke="#2c4272"/>
<rect x="376.25" y="133.15" width="6.7" height="6.7" stroke="#2c4272"/>
<path d="M414.5 89l3.6 3.6l-3.6 3.6l-3.6 -3.6z" stroke="#9c1038"/>
<path d="M408.6 103.2l3.6 3.6l-3.6 3.6l-3.6 -3.6z" stroke="#9c1038"/>
<path d="M420.5 113l3.6 3.6l-3.6 3.6l-3.6 -3.6z" stroke="#9c1038"/>
<path d="M402.7 127.8l3.6 3.6l-3.6 3.6l-3.6 -3.6z" stroke="#9c1038"/>
<path d="M421.2 125.8l3.6 3.6l-3.6 3.6l-3.6 -3.6z" stroke="#9c1038"/>
<path d="M408.8 132.7l3.6 3.6l-3.6 3.6l-3.6 -3.6z" stroke="#9c1038"/>
<path d="M424.1 138.1l3.6 3.6l-3.6 3.6l-3.6 -3.6z" stroke="#9c1038"/>
<path d="M410.8 141.1l3.6 3.6l-3.6 3.6l-3.6 -3.6z" stroke="#9c1038"/>
<path d="M418.7 142.1l3.6 3.6l-3.6 3.6l-3.6 -3.6z" stroke="#9c1038"/>
<path d="M406.4 148l3.6 3.6l-3.6 3.6l-3.6 -3.6z" stroke="#9c1038"/>
<path d="M424.1 147.5l3.6 3.6l-3.6 3.6l-3.6 -3.6z" stroke="#9c1038"/>
<path d="M408.3 144.6l3.6 3.6l-3.6 3.6l-3.6 -3.6z" stroke="#9c1038"/>
<path d="M420.2 144.6l3.6 3.6l-3.6 3.6l-3.6 -3.6z" stroke="#9c1038"/>
<path d="M414.6 146.9l3.6 3.6l-3.6 3.6l-3.6 -3.6z" stroke="#9c1038"/>
<path d="M411.3 155.5l3.6 3.6l-3.6 3.6l-3.6 -3.6z" stroke="#9c1038"/>
<path d="M413.4 155.5l3.6 3.6l-3.6 3.6l-3.6 -3.6z" stroke="#9c1038"/>
<path d="M415.5 155.5l3.6 3.6l-3.6 3.6l-3.6 -3.6z" stroke="#9c1038"/>
<path d="M417.6 155.5l3.6 3.6l-3.6 3.6l-3.6 -3.6z" stroke="#9c1038"/>
<rect x="450.35" y="74.85" width="6.7" height="6.7" stroke="#2c4272"/>
<rect x="449.95" y="93.35" width="6.7" height="6.7" stroke="#2c4272"/>
<rect x="443.55" y="101.05" width="6.7" height="6.7" stroke="#2c4272"/>
<rect x="455.65" y="100.25" width="6.7" height="6.7" stroke="#2c4272"/>
<rect x="449.85" y="104.65" width="6.7" height="6.7" stroke="#2c4272"/>
<rect x="441.95" y="109.05" width="6.7" height="6.7" stroke="#2c4272"/>
<rect x="449.85" y="109.25" width="6.7" height="6.7" stroke="#2c4272"/>
<rect x="458.15" y="109.05" width="6.7" height="6.7" stroke="#2c4272"/>
<rect x="439.45" y="113.05" width="6.7" height="6.7" stroke="#2c4272"/>
<rect x="459.85" y="113.05" width="6.7" height="6.7" stroke="#2c4272"/>
<rect x="441.9" y="115.9" width="6.7" height="6.7" stroke="#33508c"/>
<rect x="445.29" y="115.95" width="6.7" height="6.7" stroke="#33508c"/>
<rect x="447.92" y="115.66" width="6.7" height="6.7" stroke="#33508c"/>
<rect x="450.21" y="115.92" width="6.7" height="6.7" stroke="#33508c"/>
<rect x="453.62" y="116.34" width="6.7" height="6.7" stroke="#33508c"/>
<rect x="456.43" y="115.94" width="6.7" height="6.7" stroke="#33508c"/>
<rect x="459.07" y="116.11" width="6.7" height="6.7" stroke="#33508c"/>
<rect x="441.87" y="118.37" width="6.7" height="6.7" stroke="#33508c"/>
<rect x="445.21" y="118.45" width="6.7" height="6.7" stroke="#33508c"/>
<rect x="448.21" y="119.19" width="6.7" height="6.7" stroke="#33508c"/>
<rect x="450.17" y="118.71" width="6.7" height="6.7" stroke="#33508c"/>
<rect x="453.89" y="119.22" width="6.7" height="6.7" stroke="#33508c"/>
<rect x="456.43" y="118.52" width="6.7" height="6.7" stroke="#33508c"/>
<rect x="459.11" y="119.2" width="6.7" height="6.7" stroke="#33508c"/>
<rect x="441.39" y="121.43" width="6.7" height="6.7" stroke="#33508c"/>
<rect x="444.31" y="121.37" width="6.7" height="6.7" stroke="#33508c"/>
<rect x="448.11" y="120.98" width="6.7" height="6.7" stroke="#33508c"/>
<rect x="450.97" y="121.36" width="6.7" height="6.7" stroke="#33508c"/>
<rect x="454.03" y="121.55" width="6.7" height="6.7" stroke="#33508c"/>
<rect x="456.36" y="121.75" width="6.7" height="6.7" stroke="#33508c"/>
<rect x="459.61" y="120.87" width="6.7" height="6.7" stroke="#33508c"/>
<rect x="441.3" y="123.94" width="6.7" height="6.7" stroke="#33508c"/>
<rect x="444.7" y="123.75" width="6.7" height="6.7" stroke="#33508c"/>
<rect x="447.34" y="123.79" width="6.7" height="6.7" stroke="#33508c"/>
<rect x="450.47" y="124.29" width="6.7" height="6.7" stroke="#33508c"/>
<rect x="453.1" y="124.2" width="6.7" height="6.7" stroke="#33508c"/>
<rect x="456.89" y="123.57" width="6.7" height="6.7" stroke="#33508c"/>
<rect x="459.93" y="124.16" width="6.7" height="6.7" stroke="#33508c"/>
<rect x="443.17" y="126.34" width="6.7" height="6.7" stroke="#33508c"/>
<rect x="445.27" y="126.44" width="6.7" height="6.7" stroke="#33508c"/>
<rect x="448.52" y="126.64" width="6.7" height="6.7" stroke="#33508c"/>
<rect x="450.51" y="126.48" width="6.7" height="6.7" stroke="#33508c"/>
<rect x="453.05" y="126.1" width="6.7" height="6.7" stroke="#33508c"/>
<rect x="455.51" y="126.88" width="6.7" height="6.7" stroke="#33508c"/>
<rect x="458.32" y="126.99" width="6.7" height="6.7" stroke="#33508c"/>
<rect x="445.07" y="128.92" width="6.7" height="6.7" stroke="#33508c"/>
<rect x="447.99" y="128.84" width="6.7" height="6.7" stroke="#33508c"/>
<rect x="450.52" y="129.61" width="6.7" height="6.7" stroke="#33508c"/>
<rect x="453.7" y="129.46" width="6.7" height="6.7" stroke="#33508c"/>
<rect x="456.11" y="129.56" width="6.7" height="6.7" stroke="#33508c"/>
<rect x="445.65" y="134.25" width="6.7" height="6.7" stroke="#2c4272"/>
<rect x="453.65" y="133.85" width="6.7" height="6.7" stroke="#2c4272"/>
<rect x="444.15" y="137.55" width="6.7" height="6.7" stroke="#2c4272"/>
<rect x="455.45" y="137.55" width="6.7" height="6.7" stroke="#2c4272"/>
<rect x="448.15" y="147.85" width="6.7" height="6.7" stroke="#2c4272"/>
<path d="M492.8 89l3.6 3.6l-3.6 3.6l-3.6 -3.6z" stroke="#9c1038"/>
<path d="M492.8 103.2l3.6 3.6l-3.6 3.6l-3.6 -3.6z" stroke="#9c1038"/>
<path d="M487.1 126.7l3.6 3.6l-3.6 3.6l-3.6 -3.6z" stroke="#9c1038"/>
<path d="M498.5 125l3.6 3.6l-3.6 3.6l-3.6 -3.6z" stroke="#9c1038"/>
<path d="M499.7 132.5l3.6 3.6l-3.6 3.6l-3.6 -3.6z" stroke="#9c1038"/>
<path d="M485.9 138.2l3.6 3.6l-3.6 3.6l-3.6 -3.6z" stroke="#9c1038"/>
<path d="M498.5 143.4l3.6 3.6l-3.6 3.6l-3.6 -3.6z" stroke="#9c1038"/>
<path d="M487.6 146.6l3.6 3.6l-3.6 3.6l-3.6 -3.6z" stroke="#9c1038"/>
<path d="M494.9 148.7l3.6 3.6l-3.6 3.6l-3.6 -3.6z" stroke="#9c1038"/>
<path d="M489.2 155.6l3.6 3.6l-3.6 3.6l-3.6 -3.6z" stroke="#9c1038"/>
<circle cx="74" cy="258.9" r="3.7" stroke="#5a9040"/>
<circle cx="77.8" cy="258.9" r="3.7" stroke="#5a9040"/>
<circle cx="81.6" cy="258.9" r="3.7" stroke="#5a9040"/>
<circle cx="85.3" cy="258.9" r="3.7" stroke="#5a9040"/>
<circle cx="80.1" cy="271" r="3.7" stroke="#5a9040"/>
<circle cx="74.2" cy="280.3" r="3.7" stroke="#5a9040"/>
<circle cx="92.5" cy="290.8" r="3.7" stroke="#5a9040"/>
<circle cx="87.2" cy="295.3" r="3.7" stroke="#5a9040"/>
<circle cx="83.4" cy="299.2" r="3.7" stroke="#5a9040"/>
<circle cx="73.4" cy="298.4" r="3.7" stroke="#5a9040"/>
<circle cx="76.5" cy="300.7" r="3.7" stroke="#5a9040"/>
<circle cx="74.44" cy="305.05" r="3.7" stroke="#6aa845"/>
<circle cx="77.54" cy="304.55" r="3.7" stroke="#6aa845"/>
<circle cx="80.88" cy="304.95" r="3.7" stroke="#6aa845"/>
<circle cx="84.23" cy="305.14" r="3.7" stroke="#6aa845"/>
<circle cx="87.09" cy="304.55" r="3.7" stroke="#6aa845"/>
<circle cx="74.86" cy="307.63" r="3.7" stroke="#6aa845"/>
<circle cx="77.54" cy="307.84" r="3.7" stroke="#6aa845"/>
<circle cx="80.51" cy="308.24" r="3.7" stroke="#6aa845"/>
<circle cx="84.33" cy="307.76" r="3.7" stroke="#6aa845"/>
<circle cx="87.16" cy="307.8" r="3.7" stroke="#6aa845"/>
<circle cx="74.91" cy="310.89" r="3.7" stroke="#6aa845"/>
<circle cx="77.49" cy="310.66" r="3.7" stroke="#6aa845"/>
<circle cx="80.49" cy="311.41" r="3.7" stroke="#6aa845"/>
<circle cx="83.74" cy="310.72" r="3.7" stroke="#6aa845"/>
<circle cx="87.11" cy="311.5" r="3.7" stroke="#6aa845"/>
<circle cx="74.57" cy="313.64" r="3.7" stroke="#6aa845"/>
<circle cx="77.4" cy="313.59" r="3.7" stroke="#6aa845"/>
<circle cx="80.63" cy="313.59" r="3.7" stroke="#6aa845"/>
<circle cx="83.61" cy="313.76" r="3.7" stroke="#6aa845"/>
<circle cx="87.02" cy="314.39" r="3.7" stroke="#6aa845"/>
<circle cx="74.31" cy="316.91" r="3.7" stroke="#6aa845"/>
<circle cx="77.33" cy="317.02" r="3.7" stroke="#6aa845"/>
<circle cx="80.65" cy="316.84" r="3.7" stroke="#6aa845"/>
<circle cx="83.68" cy="316.78" r="3.7" stroke="#6aa845"/>
<circle cx="87.94" cy="316.63" r="3.7" stroke="#6aa845"/>
<circle cx="73.5" cy="320.13" r="3.7" stroke="#6aa845"/>
<circle cx="76.76" cy="319.72" r="3.7" stroke="#6aa845"/>
<circle cx="79.07" cy="319.75" r="3.7" stroke="#6aa845"/>
<circle cx="82.1" cy="319.95" r="3.7" stroke="#6aa845"/>
<circle cx="85.55" cy="320.35" r="3.7" stroke="#6aa845"/>
<circle cx="88.37" cy="319.52" r="3.7" stroke="#6aa845"/>
<circle cx="73.22" cy="323.21" r="3.7" stroke="#6aa845"/>
<circle cx="76.89" cy="322.97" r="3.7" stroke="#6aa845"/>
<circle cx="79.39" cy="322.5" r="3.7" stroke="#6aa845"/>
<circle cx="82.01" cy="323.43" r="3.7" stroke="#6aa845"/>
<circle cx="85.25" cy="323.36" r="3.7" stroke="#6aa845"/>
<circle cx="88.21" cy="322.75" r="3.7" stroke="#6aa845"/>
<circle cx="73.48" cy="325.65" r="3.7" stroke="#6aa845"/>
<circle cx="77.3" cy="326.18" r="3.7" stroke="#6aa845"/>
<circle cx="81.12" cy="326.22" r="3.7" stroke="#6aa845"/>
<circle cx="84.22" cy="326.26" r="3.7" stroke="#6aa845"/>
<circle cx="87.43" cy="326.05" r="3.7" stroke="#6aa845"/>
<circle cx="72.2" cy="333.5" r="3.7" stroke="#5a9040"/>
<circle cx="76.6" cy="333.8" r="3.7" stroke="#5a9040"/>
<circle cx="81" cy="334" r="3.7" stroke="#5a9040"/>
<circle cx="85.4" cy="333.8" r="3.7" stroke="#5a9040"/>
<circle cx="89.2" cy="333.5" r="3.7" stroke="#5a9040"/>
<circle cx="74.4" cy="338.6" r="3.7" stroke="#5a9040"/>
<circle cx="78.8" cy="339" r="3.7" stroke="#5a9040"/>
<circle cx="83.2" cy="339" r="3.7" stroke="#5a9040"/>
<circle cx="87.4" cy="338.6" r="3.7" stroke="#5a9040"/>
<circle cx="77" cy="343" r="3.7" stroke="#5a9040"/>
<circle cx="81.3" cy="343.6" r="3.7" stroke="#5a9040"/>
<circle cx="85.4" cy="343" r="3.7" stroke="#5a9040"/>
<circle cx="81.6" cy="345" r="3.7" stroke="#5a9040"/>
<circle cx="80.3" cy="358" r="3.7" stroke="#5a9040"/>
<rect x="112.85" y="255.85" width="6.7" height="6.7" stroke="#2c4272"/>
<rect x="120.25" y="255.85" width="6.7" height="6.7" stroke="#2c4272"/>
<rect x="106.25" y="266.65" width="6.7" height="6.7" stroke="#2c4272"/>
<rect x="114.05" y="267.35" width="6.7" height="6.7" stroke="#2c4272"/>
<rect x="107.65" y="279.85" width="6.7" height="6.7" stroke="#2c4272"/>
<rect x="119.15" y="279.85" width="6.7" height="6.7" stroke="#2c4272"/>
<rect x="107.65" y="283.55" width="6.7" height="6.7" stroke="#2c4272"/>
<rect x="119.15" y="282.85" width="6.7" height="6.7" stroke="#2c4272"/>
<rect x="110.25" y="291.85" width="6.7" height="6.7" stroke="#2c4272"/>
<rect x="119.95" y="295.85" width="6.7" height="6.7" stroke="#2c4272"/>
<rect x="106.25" y="301.55" width="6.7" height="6.7" stroke="#2c4272"/>
<rect x="119.95" y="303.15" width="6.7" height="6.7" stroke="#2c4272"/>
<rect x="106.25" y="308.75" width="6.7" height="6.7" stroke="#2c4272"/>
<rect x="119.95" y="309.55" width="6.7" height="6.7" stroke="#2c4272"/>
<rect x="114.25" y="310.35" width="6.7" height="6.7" stroke="#2c4272"/>
<rect x="107.05" y="319.15" width="6.7" height="6.7" stroke="#2c4272"/>
<rect x="112.65" y="319.65" width="6.7" height="6.7" stroke="#2c4272"/>
<rect x="118.25" y="319.15" width="6.7" height="6.7" stroke="#2c4272"/>
<rect x="104.65" y="327.95" width="6.7" height="6.7" stroke="#2c4272"/>
<rect x="121.55" y="327.95" width="6.7" height="6.7" stroke="#2c4272"/>
<rect x="106.79" y="323.43" width="6.7" height="6.7" stroke="#33508c"/>
<rect x="109.08" y="323.57" width="6.7" height="6.7" stroke="#33508c"/>
<rect x="111.6" y="322.95" width="6.7" height="6.7" stroke="#33508c"/>
<rect x="113.18" y="322.9" width="6.7" height="6.7" stroke="#33508c"/>
<rect x="115.79" y="323.35" width="6.7" height="6.7" stroke="#33508c"/>
<rect x="117.36" y="322.72" width="6.7" height="6.7" stroke="#33508c"/>
<rect x="119.87" y="323.23" width="6.7" height="6.7" stroke="#33508c"/>
<rect x="109.11" y="324.87" width="6.7" height="6.7" stroke="#33508c"/>
<rect x="111.5" y="324.66" width="6.7" height="6.7" stroke="#33508c"/>
<rect x="113.38" y="325.11" width="6.7" height="6.7" stroke="#33508c"/>
<rect x="116.22" y="325.29" width="6.7" height="6.7" stroke="#33508c"/>
<rect x="118.33" y="325.13" width="6.7" height="6.7" stroke="#33508c"/>
<rect x="110.92" y="326.9" width="6.7" height="6.7" stroke="#33508c"/>
<rect x="113.26" y="327.35" width="6.7" height="6.7" stroke="#33508c"/>
<rect x="114.23" y="326.67" width="6.7" height="6.7" stroke="#33508c"/>
<rect x="116.03" y="327.32" width="6.7" height="6.7" stroke="#33508c"/>
<rect x="113.08" y="328.91" width="6.7" height="6.7" stroke="#33508c"/>
<rect x="114.29" y="329.58" width="6.7" height="6.7" stroke="#33508c"/>
<rect x="109.35" y="340.25" width="6.7" height="6.7" stroke="#2c4272"/>
<rect x="117.05" y="339.05" width="6.7" height="6.7" stroke="#2c4272"/>
<path d="M146.6 254.9l3.6 3.6l-3.6 3.6l-3.6 -3.6z" stroke="#b4143c"/>
<path d="M147.8 254.9l3.6 3.6l-3.6 3.6l-3.6 -3.6z" stroke="#b4143c"/>
<path d="M149.4 254.9l3.6 3.6l-3.6 3.6l-3.6 -3.6z" stroke="#b4143c"/>
<path d="M150.8 254.9l3.6 3.6l-3.6 3.6l-3.6 -3.6z" stroke="#b4143c"/>
<path d="M152.2 254.9l3.6 3.6l-3.6 3.6l-3.6 -3.6z" stroke="#b4143c"/>
<path d="M153.6 254.9l3.6 3.6l-3.6 3.6l-3.6 -3.6z" stroke="#b4143c"/>
<path d="M155 254.9l3.6 3.6l-3.6 3.6l-3.6 -3.6z" stroke="#b4143c"/>
<path d="M156.4 254.9l3.6 3.6l-3.6 3.6l-3.6 -3.6z" stroke="#b4143c"/>
<path d="M157.8 254.9l3.6 3.6l-3.6 3.6l-3.6 -3.6z" stroke="#b4143c"/>
<path d="M159.2 254.9l3.6 3.6l-3.6 3.6l-3.6 -3.6z" stroke="#b4143c"/>
<path d="M160.6 254.9l3.6 3.6l-3.6 3.6l-3.6 -3.6z" stroke="#b4143c"/>
<path d="M153.5 263.3l3.6 3.6l-3.6 3.6l-3.6 -3.6z" stroke="#9c1038"/>
<path d="M147.5 277.4l3.6 3.6l-3.6 3.6l-3.6 -3.6z" stroke="#9c1038"/>
<path d="M159.4 282.2l3.6 3.6l-3.6 3.6l-3.6 -3.6z" stroke="#9c1038"/>
<path d="M159.2 293.9l3.6 3.6l-3.6 3.6l-3.6 -3.6z" stroke="#9c1038"/>
<path d="M147.5 299.3l3.6 3.6l-3.6 3.6l-3.6 -3.6z" stroke="#9c1038"/>
<path d="M159.3 307l3.6 3.6l-3.6 3.6l-3.6 -3.6z" stroke="#9c1038"/>
<path d="M147 313.7l3.6 3.6l-3.6 3.6l-3.6 -3.6z" stroke="#9c1038"/>
<path d="M153.4 316.8l3.6 3.6l-3.6 3.6l-3.6 -3.6z" stroke="#9c1038"/>
<path d="M147 327.9l3.6 3.6l-3.6 3.6l-3.6 -3.6z" stroke="#9c1038"/>
<path d="M159.3 330.3l3.6 3.6l-3.6 3.6l-3.6 -3.6z" stroke="#9c1038"/>
<path d="M153.1 335.8l3.6 3.6l-3.6 3.6l-3.6 -3.6z" stroke="#9c1038"/>
<rect x="186.15" y="255.85" width="6.7" height="6.7" stroke="#2c4272"/>
<rect x="192.85" y="255.85" width="6.7" height="6.7" stroke="#2c4272"/>
<rect x="179.85" y="266.65" width="6.7" height="6.7" stroke="#2c4272"/>
<rect x="187.65" y="267.35" width="6.7" height="6.7" stroke="#2c4272"/>
<rect x="179.85" y="280.35" width="6.7" height="6.7" stroke="#2c4272"/>
<rect x="192.85" y="280.95" width="6.7" height="6.7" stroke="#2c4272"/>
<rect x="182.45" y="282.85" width="6.7" height="6.7" stroke="#2c4272"/>
<rect x="190.65" y="283.65" width="6.7" height="6.7" stroke="#2c4272"/>
<rect x="184.75" y="291.85" width="6.7" height="6.7" stroke="#2c4272"/>
<rect x="193.15" y="295.85" width="6.7" height="6.7" stroke="#2c4272"/>
<rect x="179.45" y="301.55" width="6.7" height="6.7" stroke="#2c4272"/>
<rect x="193.15" y="303.15" width="6.7" height="6.7" stroke="#2c4272"/>
<rect x="179.45" y="309.55" width="6.7" height="6.7" stroke="#2c4272"/>
<rect x="193.15" y="309.55" width="6.7" height="6.7" stroke="#2c4272"/>
<rect x="185.85" y="309.55" width="6.7" height="6.7" stroke="#2c4272"/>
<rect x="178.25" y="318.15" width="6.7" height="6.7" stroke="#2c4272"/>
<rect x="183.85" y="317.65" width="6.7" height="6.7" stroke="#2c4272"/>
<rect x="189.45" y="317.65" width="6.7" height="6.7" stroke="#2c4272"/>
<rect x="195.05" y="318.15" width="6.7" height="6.7" stroke="#2c4272"/>
<rect x="179.25" y="323.15" width="6.7" height="6.7" stroke="#2c4272"/>
<rect x="184.65" y="323.15" width="6.7" height="6.7" stroke="#2c4272"/>
<rect x="190.05" y="323.15" width="6.7" height="6.7" stroke="#2c4272"/>
<rect x="195.25" y="323.15" width="6.7" height="6.7" stroke="#2c4272"/>
<rect x="182.25" y="327.85" width="6.7" height="6.7" stroke="#2c4272"/>
<rect x="186.85" y="328.25" width="6.7" height="6.7" stroke="#2c4272"/>
<rect x="191.45" y="327.85" width="6.7" height="6.7" stroke="#2c4272"/>
<rect x="182.45" y="340.35" width="6.7" height="6.7" stroke="#2c4272"/>
<rect x="190.25" y="339.15" width="6.7" height="6.7" stroke="#2c4272"/>
<path d="M220.2 255.3l3.6 3.6l-3.6 3.6l-3.6 -3.6z" stroke="#9c1038"/>
<path d="M226.7 255.3l3.6 3.6l-3.6 3.6l-3.6 -3.6z" stroke="#9c1038"/>
<path d="M233.7 255.3l3.6 3.6l-3.6 3.6l-3.6 -3.6z" stroke="#9c1038"/>
<path d="M226.7 277.3l3.6 3.6l-3.6 3.6l-3.6 -3.6z" stroke="#9c1038"/>
<path d="M232.6 295.1l3.6 3.6l-3.6 3.6l-3.6 -3.6z" stroke="#9c1038"/>
<path d="M220.9 299l3.6 3.6l-3.6 3.6l-3.6 -3.6z" stroke="#9c1038"/>
<path d="M232.6 306.8l3.6 3.6l-3.6 3.6l-3.6 -3.6z" stroke="#9c1038"/>
<path d="M220.2 313.1l3.6 3.6l-3.6 3.6l-3.6 -3.6z" stroke="#9c1038"/>
<path d="M226.7 316.6l3.6 3.6l-3.6 3.6l-3.6 -3.6z" stroke="#9c1038"/>
<path d="M232.6 329.4l3.6 3.6l-3.6 3.6l-3.6 -3.6z" stroke="#9c1038"/>
<path d="M220.9 335.3l3.6 3.6l-3.6 3.6l-3.6 -3.6z" stroke="#9c1038"/>
<circle cx="329.5" cy="272.6" r="3.7" stroke="#5a9040"/>
<circle cx="331.2" cy="276.4" r="3.7" stroke="#5a9040"/>
<circle cx="332.9" cy="280.1" r="3.7" stroke="#5a9040"/>
<circle cx="334.7" cy="283.6" r="3.7" stroke="#5a9040"/>
<circle cx="336.6" cy="286.8" r="3.7" stroke="#5a9040"/>
<circle cx="342.9" cy="272.3" r="3.7" stroke="#5a9040"/>
<circle cx="341.4" cy="276.1" r="3.7" stroke="#5a9040"/>
<circle cx="339.9" cy="279.9" r="3.7" stroke="#5a9040"/>
<circle cx="338.4" cy="283.4" r="3.7" stroke="#5a9040"/>
<circle cx="327.6" cy="277.2" r="3.7" stroke="#5a9040"/>
<circle cx="345" cy="277" r="3.7" stroke="#5a9040"/>
<circle cx="329.6" cy="281.4" r="3.7" stroke="#5a9040"/>
<circle cx="343.2" cy="281" r="3.7" stroke="#5a9040"/>
<circle cx="330.23" cy="289.03" r="3.7" stroke="#6aa845"/>
<circle cx="332.84" cy="289.42" r="3.7" stroke="#6aa845"/>
<circle cx="335.68" cy="289.2" r="3.7" stroke="#6aa845"/>
<circle cx="338.3" cy="289.74" r="3.7" stroke="#6aa845"/>
<circle cx="340.5" cy="289.21" r="3.7" stroke="#6aa845"/>
<circle cx="343.47" cy="289.31" r="3.7" stroke="#6aa845"/>
<circle cx="329.33" cy="291.83" r="3.7" stroke="#6aa845"/>
<circle cx="331.34" cy="292.36" r="3.7" stroke="#6aa845"/>
<circle cx="334.02" cy="292.55" r="3.7" stroke="#6aa845"/>
<circle cx="336.82" cy="291.79" r="3.7" stroke="#6aa845"/>
<circle cx="339.15" cy="292.02" r="3.7" stroke="#6aa845"/>
<circle cx="342.2" cy="292.55" r="3.7" stroke="#6aa845"/>
<circle cx="344.28" cy="291.99" r="3.7" stroke="#6aa845"/>
<circle cx="327.91" cy="295.17" r="3.7" stroke="#6aa845"/>
<circle cx="330.7" cy="294.25" r="3.7" stroke="#6aa845"/>
<circle cx="333.49" cy="294.59" r="3.7" stroke="#6aa845"/>
<circle cx="337.2" cy="295.08" r="3.7" stroke="#6aa845"/>
<circle cx="339.9" cy="295.2" r="3.7" stroke="#6aa845"/>
<circle cx="342.97" cy="294.53" r="3.7" stroke="#6aa845"/>
<circle cx="345.09" cy="295.14" r="3.7" stroke="#6aa845"/>
<circle cx="327.97" cy="296.83" r="3.7" stroke="#6aa845"/>
<circle cx="330.89" cy="297.18" r="3.7" stroke="#6aa845"/>
<circle cx="333.6" cy="297.13" r="3.7" stroke="#6aa845"/>
<circle cx="336.39" cy="296.8" r="3.7" stroke="#6aa845"/>
<circle cx="339.5" cy="297.15" r="3.7" stroke="#6aa845"/>
<circle cx="343.17" cy="296.92" r="3.7" stroke="#6aa845"/>
<circle cx="346.18" cy="297.01" r="3.7" stroke="#6aa845"/>
<circle cx="327.76" cy="300.22" r="3.7" stroke="#6aa845"/>
<circle cx="331.17" cy="299.83" r="3.7" stroke="#6aa845"/>
<circle cx="333.34" cy="299.87" r="3.7" stroke="#6aa845"/>
<circle cx="336.61" cy="300.32" r="3.7" stroke="#6aa845"/>
<circle cx="339.38" cy="299.76" r="3.7" stroke="#6aa845"/>
<circle cx="343.02" cy="299.43" r="3.7" stroke="#6aa845"/>
<circle cx="345.48" cy="300.21" r="3.7" stroke="#6aa845"/>
<circle cx="328.59" cy="302.04" r="3.7" stroke="#6aa845"/>
<circle cx="330.68" cy="302.06" r="3.7" stroke="#6aa845"/>
<circle cx="334.39" cy="302.26" r="3.7" stroke="#6aa845"/>
<circle cx="337.04" cy="302.9" r="3.7" stroke="#6aa845"/>
<circle cx="339.45" cy="302.27" r="3.7" stroke="#6aa845"/>
<circle cx="342.89" cy="302.62" r="3.7" stroke="#6aa845"/>
<circle cx="345.02" cy="302.72" r="3.7" stroke="#6aa845"/>
<circle cx="329.9" cy="309.4" r="3.7" stroke="#5a9040"/>
<circle cx="334.5" cy="310.4" r="3.7" stroke="#5a9040"/>
<circle cx="338.9" cy="310.4" r="3.7" stroke="#5a9040"/>
<circle cx="343.6" cy="309.4" r="3.7" stroke="#5a9040"/>
<circle cx="331.2" cy="314.4" r="3.7" stroke="#5a9040"/>
<circle cx="336.6" cy="315" r="3.7" stroke="#5a9040"/>
<circle cx="342" cy="314.4" r="3.7" stroke="#5a9040"/>
<circle cx="333.3" cy="318.8" r="3.7" stroke="#5a9040"/>
<circle cx="339.9" cy="318.8" r="3.7" stroke="#5a9040"/>
<circle cx="336.6" cy="323.4" r="3.7" stroke="#5a9040"/>
<circle cx="336.3" cy="344.3" r="3.7" stroke="#5a9040"/>
<circle cx="330.4" cy="362.8" r="3.7" stroke="#5a9040"/>
<circle cx="342.3" cy="362.8" r="3.7" stroke="#5a9040"/>
<rect x="372.45" y="258.15" width="6.7" height="6.7" stroke="#2c4272"/>
<rect x="364.85" y="271.65" width="6.7" height="6.7" stroke="#2c4272"/>
<rect x="369.85" y="271.25" width="6.7" height="6.7" stroke="#2c4272"/>
<rect x="375.05" y="271.25" width="6.7" height="6.7" stroke="#2c4272"/>
<rect x="380.05" y="271.65" width="6.7" height="6.7" stroke="#2c4272"/>
<rect x="363.87" y="275.93" width="6.7" height="6.7" stroke="#33508c"/>
<rect x="366.35" y="276.41" width="6.7" height="6.7" stroke="#33508c"/>
<rect x="370.07" y="276.28" width="6.7" height="6.7" stroke="#33508c"/>
<rect x="372.89" y="275.67" width="6.7" height="6.7" stroke="#33508c"/>
<rect x="374.98" y="276.13" width="6.7" height="6.7" stroke="#33508c"/>
<rect x="378.51" y="276.6" width="6.7" height="6.7" stroke="#33508c"/>
<rect x="380.74" y="275.9" width="6.7" height="6.7" stroke="#33508c"/>
<rect x="363.91" y="278.94" width="6.7" height="6.7" stroke="#33508c"/>
<rect x="367.23" y="278.63" width="6.7" height="6.7" stroke="#33508c"/>
<rect x="369.93" y="279.19" width="6.7" height="6.7" stroke="#33508c"/>
<rect x="372.77" y="279.22" width="6.7" height="6.7" stroke="#33508c"/>
<rect x="375.38" y="278.78" width="6.7" height="6.7" stroke="#33508c"/>
<rect x="377.91" y="278.81" width="6.7" height="6.7" stroke="#33508c"/>
<rect x="381.2" y="278.53" width="6.7" height="6.7" stroke="#33508c"/>
<rect x="363.62" y="282" width="6.7" height="6.7" stroke="#33508c"/>
<rect x="366.51" y="281.31" width="6.7" height="6.7" stroke="#33508c"/>
<rect x="369.14" y="281.8" width="6.7" height="6.7" stroke="#33508c"/>
<rect x="372.28" y="282.23" width="6.7" height="6.7" stroke="#33508c"/>
<rect x="375.68" y="282.24" width="6.7" height="6.7" stroke="#33508c"/>
<rect x="377.9" y="281.33" width="6.7" height="6.7" stroke="#33508c"/>
<rect x="380.58" y="281.75" width="6.7" height="6.7" stroke="#33508c"/>
<rect x="364.06" y="284.5" width="6.7" height="6.7" stroke="#33508c"/>
<rect x="366.45" y="284.47" width="6.7" height="6.7" stroke="#33508c"/>
<rect x="369.7" y="284.72" width="6.7" height="6.7" stroke="#33508c"/>
<rect x="372.7" y="284.9" width="6.7" height="6.7" stroke="#33508c"/>
<rect x="375.48" y="284.17" width="6.7" height="6.7" stroke="#33508c"/>
<rect x="378.52" y="284.34" width="6.7" height="6.7" stroke="#33508c"/>
<rect x="381.11" y="284.42" width="6.7" height="6.7" stroke="#33508c"/>
<rect x="364.16" y="287.05" width="6.7" height="6.7" stroke="#33508c"/>
<rect x="366.51" y="287.1" width="6.7" height="6.7" stroke="#33508c"/>
<rect x="369.26" y="287.73" width="6.7" height="6.7" stroke="#33508c"/>
<rect x="372.53" y="287.18" width="6.7" height="6.7" stroke="#33508c"/>
<rect x="375.19" y="287.84" width="6.7" height="6.7" stroke="#33508c"/>
<rect x="378.15" y="287.08" width="6.7" height="6.7" stroke="#33508c"/>
<rect x="381.29" y="287.5" width="6.7" height="6.7" stroke="#33508c"/>
<rect x="364.48" y="289.75" width="6.7" height="6.7" stroke="#33508c"/>
<rect x="366.78" y="290.47" width="6.7" height="6.7" stroke="#33508c"/>
<rect x="369.97" y="290.56" width="6.7" height="6.7" stroke="#33508c"/>
<rect x="371.99" y="289.94" width="6.7" height="6.7" stroke="#33508c"/>
<rect x="374.89" y="289.84" width="6.7" height="6.7" stroke="#33508c"/>
<rect x="378.56" y="290.23" width="6.7" height="6.7" stroke="#33508c"/>
<rect x="381.34" y="290.02" width="6.7" height="6.7" stroke="#33508c"/>
<rect x="364.53" y="292.9" width="6.7" height="6.7" stroke="#33508c"/>
<rect x="366.69" y="293.23" width="6.7" height="6.7" stroke="#33508c"/>
<rect x="370.14" y="292.56" width="6.7" height="6.7" stroke="#33508c"/>
<rect x="372.55" y="293.07" width="6.7" height="6.7" stroke="#33508c"/>
<rect x="374.94" y="292.82" width="6.7" height="6.7" stroke="#33508c"/>
<rect x="377.63" y="292.65" width="6.7" height="6.7" stroke="#33508c"/>
<rect x="380.5" y="293.05" width="6.7" height="6.7" stroke="#33508c"/>
<rect x="365.35" y="295.45" width="6.7" height="6.7" stroke="#33508c"/>
<rect x="367.63" y="295.58" width="6.7" height="6.7" stroke="#33508c"/>
<rect x="371.22" y="295.44" width="6.7" height="6.7" stroke="#33508c"/>
<rect x="373.77" y="295.45" width="6.7" height="6.7" stroke="#33508c"/>
<rect x="377.17" y="295.8" width="6.7" height="6.7" stroke="#33508c"/>
<rect x="379.36" y="295.35" width="6.7" height="6.7" stroke="#33508c"/>
<rect x="366.12" y="298.6" width="6.7" height="6.7" stroke="#33508c"/>
<rect x="369.52" y="298.14" width="6.7" height="6.7" stroke="#33508c"/>
<rect x="372.2" y="298.75" width="6.7" height="6.7" stroke="#33508c"/>
<rect x="375.61" y="298.33" width="6.7" height="6.7" stroke="#33508c"/>
<rect x="378.66" y="299" width="6.7" height="6.7" stroke="#33508c"/>
<rect x="368.64" y="301.42" width="6.7" height="6.7" stroke="#33508c"/>
<rect x="371.22" y="301.27" width="6.7" height="6.7" stroke="#33508c"/>
<rect x="374.27" y="301.85" width="6.7" height="6.7" stroke="#33508c"/>
<rect x="376.31" y="301.05" width="6.7" height="6.7" stroke="#33508c"/>
<rect x="379.35" y="306.65" width="6.7" height="6.7" stroke="#2c4272"/>
<rect x="364.05" y="314.75" width="6.7" height="6.7" stroke="#2c4272"/>
<rect x="372.45" y="316.15" width="6.7" height="6.7" stroke="#2c4272"/>
<rect x="372.45" y="327.25" width="6.7" height="6.7" stroke="#2c4272"/>
<path d="M414.4 261.5l3.6 3.6l-3.6 3.6l-3.6 -3.6z" stroke="#9c1038"/>
<path d="M414.4 283.3l3.6 3.6l-3.6 3.6l-3.6 -3.6z" stroke="#9c1038"/>
<path d="M421.7 289.1l3.6 3.6l-3.6 3.6l-3.6 -3.6z" stroke="#9c1038"/>
<path d="M407.6 294.2l3.6 3.6l-3.6 3.6l-3.6 -3.6z" stroke="#9c1038"/>
<path d="M414 297.8l3.6 3.6l-3.6 3.6l-3.6 -3.6z" stroke="#9c1038"/>
<path d="M408.9 304.8l3.6 3.6l-3.6 3.6l-3.6 -3.6z" stroke="#9c1038"/>
<path d="M420.6 304.8l3.6 3.6l-3.6 3.6l-3.6 -3.6z" stroke="#9c1038"/>
<path d="M410.6 309.8l3.6 3.6l-3.6 3.6l-3.6 -3.6z" stroke="#9c1038"/>
<path d="M418.1 309.8l3.6 3.6l-3.6 3.6l-3.6 -3.6z" stroke="#9c1038"/>
<path d="M408.9 321.2l3.6 3.6l-3.6 3.6l-3.6 -3.6z" stroke="#9c1038"/>
<path d="M420.6 325.2l3.6 3.6l-3.6 3.6l-3.6 -3.6z" stroke="#9c1038"/>
<path d="M410.1 359.2l3.6 3.6l-3.6 3.6l-3.6 -3.6z" stroke="#9c1038"/>
<path d="M413.5 359.2l3.6 3.6l-3.6 3.6l-3.6 -3.6z" stroke="#9c1038"/>
<path d="M416.8 359.2l3.6 3.6l-3.6 3.6l-3.6 -3.6z" stroke="#9c1038"/>
<path d="M420.2 359.2l3.6 3.6l-3.6 3.6l-3.6 -3.6z" stroke="#9c1038"/>
<rect x="449.75" y="258.35" width="6.7" height="6.7" stroke="#2c4272"/>
<rect x="442.85" y="271.65" width="6.7" height="6.7" stroke="#2c4272"/>
<rect x="447.85" y="271.25" width="6.7" height="6.7" stroke="#2c4272"/>
<rect x="453.05" y="271.25" width="6.7" height="6.7" stroke="#2c4272"/>
<rect x="458.05" y="271.65" width="6.7" height="6.7" stroke="#2c4272"/>
<rect x="442.28" y="275.85" width="6.7" height="6.7" stroke="#33508c"/>
<rect x="444.36" y="276.55" width="6.7" height="6.7" stroke="#33508c"/>
<rect x="447.57" y="276.47" width="6.7" height="6.7" stroke="#33508c"/>
<rect x="450.36" y="276.53" width="6.7" height="6.7" stroke="#33508c"/>
<rect x="453.21" y="275.81" width="6.7" height="6.7" stroke="#33508c"/>
<rect x="455.56" y="276.2" width="6.7" height="6.7" stroke="#33508c"/>
<rect x="458.99" y="276.56" width="6.7" height="6.7" stroke="#33508c"/>
<rect x="441.57" y="279.07" width="6.7" height="6.7" stroke="#33508c"/>
<rect x="444.68" y="278.95" width="6.7" height="6.7" stroke="#33508c"/>
<rect x="447.27" y="278.73" width="6.7" height="6.7" stroke="#33508c"/>
<rect x="450.47" y="279.38" width="6.7" height="6.7" stroke="#33508c"/>
<rect x="452.88" y="278.94" width="6.7" height="6.7" stroke="#33508c"/>
<rect x="456.4" y="279.42" width="6.7" height="6.7" stroke="#33508c"/>
<rect x="458.61" y="278.58" width="6.7" height="6.7" stroke="#33508c"/>
<rect x="442.36" y="282.23" width="6.7" height="6.7" stroke="#33508c"/>
<rect x="444.74" y="281.3" width="6.7" height="6.7" stroke="#33508c"/>
<rect x="448.03" y="281.64" width="6.7" height="6.7" stroke="#33508c"/>
<rect x="450.85" y="281.87" width="6.7" height="6.7" stroke="#33508c"/>
<rect x="453.62" y="281.41" width="6.7" height="6.7" stroke="#33508c"/>
<rect x="456.42" y="281.47" width="6.7" height="6.7" stroke="#33508c"/>
<rect x="458.89" y="282.1" width="6.7" height="6.7" stroke="#33508c"/>
<rect x="442.18" y="284.23" width="6.7" height="6.7" stroke="#33508c"/>
<rect x="444.44" y="284.45" width="6.7" height="6.7" stroke="#33508c"/>
<rect x="447.6" y="284.43" width="6.7" height="6.7" stroke="#33508c"/>
<rect x="450.07" y="284.3" width="6.7" height="6.7" stroke="#33508c"/>
<rect x="453.54" y="284.95" width="6.7" height="6.7" stroke="#33508c"/>
<rect x="455.72" y="284.61" width="6.7" height="6.7" stroke="#33508c"/>
<rect x="459.31" y="284.09" width="6.7" height="6.7" stroke="#33508c"/>
<rect x="442.26" y="286.97" width="6.7" height="6.7" stroke="#33508c"/>
<rect x="444.86" y="287.4" width="6.7" height="6.7" stroke="#33508c"/>
<rect x="447.73" y="287.16" width="6.7" height="6.7" stroke="#33508c"/>
<rect x="450.37" y="287.43" width="6.7" height="6.7" stroke="#33508c"/>
<rect x="453.22" y="287.51" width="6.7" height="6.7" stroke="#33508c"/>
<rect x="456.09" y="287.29" width="6.7" height="6.7" stroke="#33508c"/>
<rect x="458.51" y="287.47" width="6.7" height="6.7" stroke="#33508c"/>
<rect x="441.98" y="289.89" width="6.7" height="6.7" stroke="#33508c"/>
<rect x="445.07" y="290.43" width="6.7" height="6.7" stroke="#33508c"/>
<rect x="447.59" y="289.83" width="6.7" height="6.7" stroke="#33508c"/>
<rect x="450.42" y="289.76" width="6.7" height="6.7" stroke="#33508c"/>
<rect x="452.9" y="290.08" width="6.7" height="6.7" stroke="#33508c"/>
<rect x="455.68" y="290.09" width="6.7" height="6.7" stroke="#33508c"/>
<rect x="458.92" y="289.69" width="6.7" height="6.7" stroke="#33508c"/>
<rect x="442.3" y="292.53" width="6.7" height="6.7" stroke="#33508c"/>
<rect x="445.16" y="293.23" width="6.7" height="6.7" stroke="#33508c"/>
<rect x="447.7" y="292.5" width="6.7" height="6.7" stroke="#33508c"/>
<rect x="450.46" y="292.83" width="6.7" height="6.7" stroke="#33508c"/>
<rect x="453.67" y="292.59" width="6.7" height="6.7" stroke="#33508c"/>
<rect x="456.34" y="293.45" width="6.7" height="6.7" stroke="#33508c"/>
<rect x="458.98" y="293.26" width="6.7" height="6.7" stroke="#33508c"/>
<rect x="442.89" y="296.23" width="6.7" height="6.7" stroke="#33508c"/>
<rect x="446.11" y="296.21" width="6.7" height="6.7" stroke="#33508c"/>
<rect x="449.45" y="295.42" width="6.7" height="6.7" stroke="#33508c"/>
<rect x="452.25" y="296.18" width="6.7" height="6.7" stroke="#33508c"/>
<rect x="454.45" y="295.6" width="6.7" height="6.7" stroke="#33508c"/>
<rect x="458.06" y="295.41" width="6.7" height="6.7" stroke="#33508c"/>
<rect x="444.62" y="298.32" width="6.7" height="6.7" stroke="#33508c"/>
<rect x="447.7" y="298.19" width="6.7" height="6.7" stroke="#33508c"/>
<rect x="450.54" y="298.97" width="6.7" height="6.7" stroke="#33508c"/>
<rect x="453.41" y="298.31" width="6.7" height="6.7" stroke="#33508c"/>
<rect x="456.86" y="298.37" width="6.7" height="6.7" stroke="#33508c"/>
<rect x="446.36" y="301.03" width="6.7" height="6.7" stroke="#33508c"/>
<rect x="449.03" y="301.79" width="6.7" height="6.7" stroke="#33508c"/>
<rect x="452.09" y="301.75" width="6.7" height="6.7" stroke="#33508c"/>
<rect x="454.12" y="301.63" width="6.7" height="6.7" stroke="#33508c"/>
<rect x="458.15" y="306.65" width="6.7" height="6.7" stroke="#2c4272"/>
<rect x="443.05" y="314.65" width="6.7" height="6.7" stroke="#2c4272"/>
<rect x="449.75" y="316.65" width="6.7" height="6.7" stroke="#2c4272"/>
<rect x="449.75" y="328.25" width="6.7" height="6.7" stroke="#2c4272"/>
<path d="M492.5 261.7l3.6 3.6l-3.6 3.6l-3.6 -3.6z" stroke="#9c1038"/>
<path d="M486.8 288.6l3.6 3.6l-3.6 3.6l-3.6 -3.6z" stroke="#9c1038"/>
<path d="M499 296.7l3.6 3.6l-3.6 3.6l-3.6 -3.6z" stroke="#9c1038"/>
<path d="M485.2 304.9l3.6 3.6l-3.6 3.6l-3.6 -3.6z" stroke="#9c1038"/>
<path d="M500.1 306.9l3.6 3.6l-3.6 3.6l-3.6 -3.6z" stroke="#9c1038"/>
<path d="M488.9 309.6l3.6 3.6l-3.6 3.6l-3.6 -3.6z" stroke="#9c1038"/>
<path d="M496.3 313l3.6 3.6l-3.6 3.6l-3.6 -3.6z" stroke="#9c1038"/>
<path d="M492.3 312.3l3.6 3.6l-3.6 3.6l-3.6 -3.6z" stroke="#9c1038"/>
<path d="M486.2 320.4l3.6 3.6l-3.6 3.6l-3.6 -3.6z" stroke="#9c1038"/>
<path d="M498.4 325.2l3.6 3.6l-3.6 3.6l-3.6 -3.6z" stroke="#9c1038"/>
<path d="M492.5 358.9l3.6 3.6l-3.6 3.6l-3.6 -3.6z" stroke="#9c1038"/>
</g>
<line x1="75.7" y1="128.2" x2="75.7" y2="148.5" stroke="#1c1c1c" stroke-width="1.4"/>
<line x1="69.6" y1="128.2" x2="81.8" y2="128.2" stroke="#1c1c1c" stroke-width="1.4"/>
<line x1="69.6" y1="148.5" x2="81.8" y2="148.5" stroke="#1c1c1c" stroke-width="1.4"/>
<line x1="62.4" y1="141.2" x2="89" y2="141.2" stroke="#1c1c1c" stroke-width="1.4"/>
<line x1="114.5" y1="132.8" x2="114.5" y2="145.8" stroke="#1c1c1c" stroke-width="1.4"/>
<line x1="109.1" y1="132.8" x2="119.9" y2="132.8" stroke="#1c1c1c" stroke-width="1.4"/>
<line x1="109.1" y1="145.8" x2="119.9" y2="145.8" stroke="#1c1c1c" stroke-width="1.4"/>
<line x1="101.5" y1="139.4" x2="127.5" y2="139.4" stroke="#1c1c1c" stroke-width="1.4"/>
<line x1="153.7" y1="83.4" x2="153.7" y2="145" stroke="#1c1c1c" stroke-width="1.4"/>
<line x1="147.3" y1="83.4" x2="160.1" y2="83.4" stroke="#1c1c1c" stroke-width="1.4"/>
<line x1="147.3" y1="145" x2="160.1" y2="145" stroke="#1c1c1c" stroke-width="1.4"/>
<line x1="140.7" y1="131.8" x2="166.7" y2="131.8" stroke="#1c1c1c" stroke-width="1.4"/>
<line x1="193.2" y1="129.5" x2="193.2" y2="146" stroke="#1c1c1c" stroke-width="1.4"/>
<line x1="187.2" y1="129.5" x2="199.2" y2="129.5" stroke="#1c1c1c" stroke-width="1.4"/>
<line x1="187.2" y1="146" x2="199.2" y2="146" stroke="#1c1c1c" stroke-width="1.4"/>
<line x1="180.2" y1="138.4" x2="206.2" y2="138.4" stroke="#1c1c1c" stroke-width="1.4"/>
<line x1="232" y1="115.3" x2="232" y2="145" stroke="#1c1c1c" stroke-width="1.4"/>
<line x1="226.2" y1="115.3" x2="237.8" y2="115.3" stroke="#1c1c1c" stroke-width="1.4"/>
<line x1="226.2" y1="145" x2="237.8" y2="145" stroke="#1c1c1c" stroke-width="1.4"/>
<line x1="218.5" y1="137.8" x2="245.5" y2="137.8" stroke="#1c1c1c" stroke-width="1.4"/>
<line x1="336.7" y1="109.6" x2="336.7" y2="127.4" stroke="#1c1c1c" stroke-width="1.4"/>
<line x1="330.8" y1="109.6" x2="342.6" y2="109.6" stroke="#1c1c1c" stroke-width="1.4"/>
<line x1="330.8" y1="127.4" x2="342.6" y2="127.4" stroke="#1c1c1c" stroke-width="1.4"/>
<line x1="323.7" y1="118.9" x2="349.7" y2="118.9" stroke="#1c1c1c" stroke-width="1.4"/>
<line x1="375.8" y1="116.9" x2="375.8" y2="134.5" stroke="#1c1c1c" stroke-width="1.4"/>
<line x1="368.8" y1="116.9" x2="382.8" y2="116.9" stroke="#1c1c1c" stroke-width="1.4"/>
<line x1="368.8" y1="134.5" x2="382.8" y2="134.5" stroke="#1c1c1c" stroke-width="1.4"/>
<line x1="362" y1="128.6" x2="389.6" y2="128.6" stroke="#1c1c1c" stroke-width="1.4"/>
<line x1="414.8" y1="129.4" x2="414.8" y2="154.6" stroke="#1c1c1c" stroke-width="1.4"/>
<line x1="408.4" y1="129.4" x2="421.2" y2="129.4" stroke="#1c1c1c" stroke-width="1.4"/>
<line x1="408.4" y1="154.6" x2="421.2" y2="154.6" stroke="#1c1c1c" stroke-width="1.4"/>
<line x1="401.9" y1="145.5" x2="427.7" y2="145.5" stroke="#1c1c1c" stroke-width="1.4"/>
<line x1="453.9" y1="118.8" x2="453.9" y2="137" stroke="#1c1c1c" stroke-width="1.4"/>
<line x1="447.6" y1="118.8" x2="460.2" y2="118.8" stroke="#1c1c1c" stroke-width="1.4"/>
<line x1="447.6" y1="137" x2="460.2" y2="137" stroke="#1c1c1c" stroke-width="1.4"/>
<line x1="441" y1="128.6" x2="466.8" y2="128.6" stroke="#1c1c1c" stroke-width="1.4"/>
<line x1="492.8" y1="128.6" x2="492.8" y2="151" stroke="#1c1c1c" stroke-width="1.4"/>
<line x1="486.5" y1="128.6" x2="499.1" y2="128.6" stroke="#1c1c1c" stroke-width="1.4"/>
<line x1="486.5" y1="151" x2="499.1" y2="151" stroke="#1c1c1c" stroke-width="1.4"/>
<line x1="479.7" y1="141.8" x2="505.9" y2="141.8" stroke="#1c1c1c" stroke-width="1.4"/>
<line x1="80.5" y1="308" x2="80.5" y2="331.2" stroke="#1c1c1c" stroke-width="1.4"/>
<line x1="74.2" y1="308" x2="86.8" y2="308" stroke="#1c1c1c" stroke-width="1.4"/>
<line x1="74.2" y1="331.2" x2="86.8" y2="331.2" stroke="#1c1c1c" stroke-width="1.4"/>
<line x1="67.8" y1="322" x2="93.2" y2="322" stroke="#1c1c1c" stroke-width="1.4"/>
<line x1="117" y1="290.2" x2="117" y2="328.6" stroke="#1c1c1c" stroke-width="1.4"/>
<line x1="111.4" y1="290.2" x2="122.6" y2="290.2" stroke="#1c1c1c" stroke-width="1.4"/>
<line x1="111.4" y1="328.6" x2="122.6" y2="328.6" stroke="#1c1c1c" stroke-width="1.4"/>
<line x1="104.3" y1="319.5" x2="129.7" y2="319.5" stroke="#1c1c1c" stroke-width="1.4"/>
<line x1="153.5" y1="258.9" x2="153.5" y2="318.6" stroke="#1c1c1c" stroke-width="1.4"/>
<line x1="147.9" y1="258.9" x2="159.1" y2="258.9" stroke="#1c1c1c" stroke-width="1.4"/>
<line x1="147.9" y1="318.6" x2="159.1" y2="318.6" stroke="#1c1c1c" stroke-width="1.4"/>
<line x1="140.9" y1="285.8" x2="166.1" y2="285.8" stroke="#1c1c1c" stroke-width="1.4"/>
<line x1="190" y1="290" x2="190" y2="327.5" stroke="#1c1c1c" stroke-width="1.4"/>
<line x1="184.4" y1="290" x2="195.6" y2="290" stroke="#1c1c1c" stroke-width="1.4"/>
<line x1="184.4" y1="327.5" x2="195.6" y2="327.5" stroke="#1c1c1c" stroke-width="1.4"/>
<line x1="177" y1="321.3" x2="203" y2="321.3" stroke="#1c1c1c" stroke-width="1.4"/>
<line x1="226.7" y1="258.9" x2="226.7" y2="319.7" stroke="#1c1c1c" stroke-width="1.4"/>
<line x1="221.9" y1="258.9" x2="231.5" y2="258.9" stroke="#1c1c1c" stroke-width="1.4"/>
<line x1="221.9" y1="319.7" x2="231.5" y2="319.7" stroke="#1c1c1c" stroke-width="1.4"/>
<line x1="214.5" y1="302.6" x2="238.9" y2="302.6" stroke="#1c1c1c" stroke-width="1.4"/>
<line x1="336.6" y1="291.2" x2="336.6" y2="306.2" stroke="#1c1c1c" stroke-width="1.4"/>
<line x1="330.7" y1="291.2" x2="342.5" y2="291.2" stroke="#1c1c1c" stroke-width="1.4"/>
<line x1="330.7" y1="306.2" x2="342.5" y2="306.2" stroke="#1c1c1c" stroke-width="1.4"/>
<line x1="322.9" y1="299.4" x2="350.3" y2="299.4" stroke="#1c1c1c" stroke-width="1.4"/>
<line x1="375.8" y1="284.1" x2="375.8" y2="300.9" stroke="#1c1c1c" stroke-width="1.4"/>
<line x1="370" y1="284.1" x2="381.6" y2="284.1" stroke="#1c1c1c" stroke-width="1.4"/>
<line x1="370" y1="300.9" x2="381.6" y2="300.9" stroke="#1c1c1c" stroke-width="1.4"/>
<line x1="362.4" y1="291.5" x2="389.2" y2="291.5" stroke="#1c1c1c" stroke-width="1.4"/>
<line x1="414.4" y1="299.7" x2="414.4" y2="345.6" stroke="#1c1c1c" stroke-width="1.4"/>
<line x1="407.8" y1="299.7" x2="421" y2="299.7" stroke="#1c1c1c" stroke-width="1.4"/>
<line x1="407.8" y1="345.6" x2="421" y2="345.6" stroke="#1c1c1c" stroke-width="1.4"/>
<line x1="401.4" y1="314.7" x2="427.4" y2="314.7" stroke="#1c1c1c" stroke-width="1.4"/>
<line x1="453.5" y1="284.2" x2="453.5" y2="301" stroke="#1c1c1c" stroke-width="1.4"/>
<line x1="447.7" y1="284.2" x2="459.3" y2="284.2" stroke="#1c1c1c" stroke-width="1.4"/>
<line x1="447.7" y1="301" x2="459.3" y2="301" stroke="#1c1c1c" stroke-width="1.4"/>
<line x1="440.6" y1="291.7" x2="466.4" y2="291.7" stroke="#1c1c1c" stroke-width="1.4"/>
<line x1="492.5" y1="301" x2="492.5" y2="324" stroke="#1c1c1c" stroke-width="1.4"/>
<line x1="486.6" y1="301" x2="498.4" y2="301" stroke="#1c1c1c" stroke-width="1.4"/>
<line x1="486.6" y1="324" x2="498.4" y2="324" stroke="#1c1c1c" stroke-width="1.4"/>
<line x1="479.6" y1="315" x2="505.4" y2="315" stroke="#1c1c1c" stroke-width="1.4"/>
<line x1="327" y1="34.8" x2="423.2" y2="34.8" stroke="#1a1a1a" stroke-width="1.4"/>
<ellipse cx="373.45" cy="28.9" rx="1.05" ry="1.25" fill="#111"/>
<ellipse cx="376.55" cy="28.9" rx="1.05" ry="1.25" fill="#111"/>
<line x1="327" y1="45" x2="369.3" y2="45" stroke="#1a1a1a" stroke-width="1.4"/>
<ellipse cx="344.85" cy="40.1" rx="1.05" ry="1.25" fill="#111"/>
<ellipse cx="347.95" cy="40.1" rx="1.05" ry="1.25" fill="#111"/>
<line x1="380.9" y1="45" x2="423.2" y2="45" stroke="#1a1a1a" stroke-width="1.4"/>
<ellipse cx="400.95" cy="40.7" rx="1.05" ry="1.25" fill="#111"/>
<ellipse cx="404.05" cy="40.7" rx="1.05" ry="1.25" fill="#111"/>
<line x1="452.7" y1="45.2" x2="495.5" y2="45.2" stroke="#1a1a1a" stroke-width="1.4"/>
<ellipse cx="474.6" cy="41.4" rx="1.05" ry="1.25" fill="#111"/>
<line x1="66.3" y1="238.8" x2="162.6" y2="238.8" stroke="#1a1a1a" stroke-width="1.4"/>
<ellipse cx="113.9" cy="232.5" rx="1.05" ry="1.25" fill="#111"/>
<line x1="120.3" y1="249.4" x2="162.6" y2="249.4" stroke="#1a1a1a" stroke-width="1.4"/>
<ellipse cx="142.1" cy="244.5" rx="1.05" ry="1.25" fill="#111"/>
<line x1="327" y1="238.8" x2="423.2" y2="238.8" stroke="#1a1a1a" stroke-width="1.4"/>
<ellipse cx="374.6" cy="232.5" rx="1.05" ry="1.25" fill="#111"/>
<line x1="380.9" y1="249" x2="423.2" y2="249" stroke="#1a1a1a" stroke-width="1.4"/>
<ellipse cx="400.95" cy="244.7" rx="1.05" ry="1.25" fill="#111"/>
<ellipse cx="404.05" cy="244.7" rx="1.05" ry="1.25" fill="#111"/>
<line x1="452.8" y1="249.3" x2="495.4" y2="249.3" stroke="#1a1a1a" stroke-width="1.4"/>
<ellipse cx="474.7" cy="244.5" rx="1.05" ry="1.25" fill="#111"/>
</svg><div id="b2"></div><div id="b"></div></div></body></html>
